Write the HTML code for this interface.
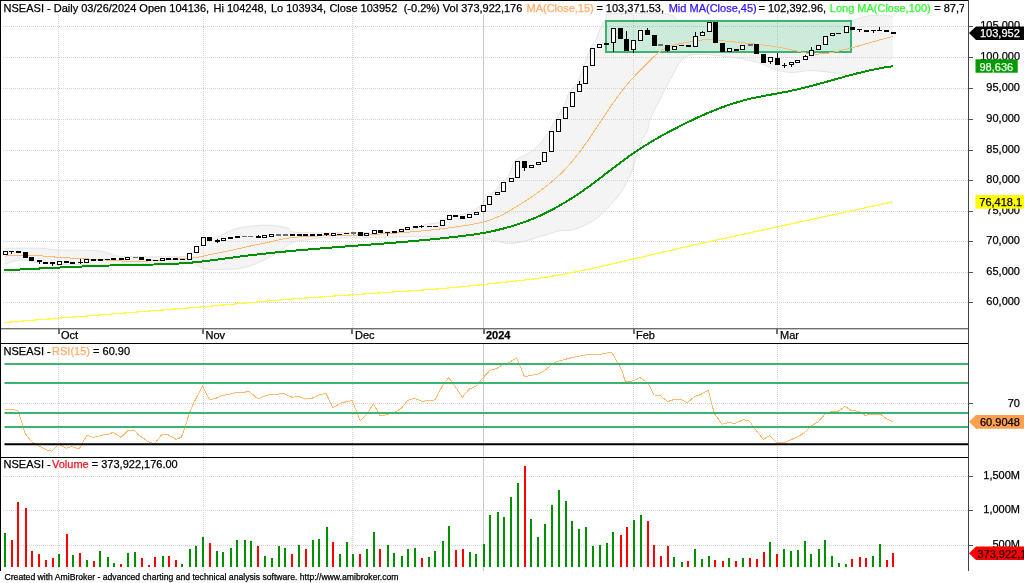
<!DOCTYPE html><html><head><meta charset="utf-8"><title>NSEASI chart</title>
<style>html,body{margin:0;padding:0;background:#fff;}body{width:1024px;height:583px;overflow:hidden;}svg{display:block;} text,tspan{font-family:'Liberation Sans', Arial, sans-serif;font-size:11px;stroke-width:0.25px;}</style></head><body>
<svg width="1024" height="583" viewBox="0 0 1024 583">
<rect x="0" y="0" width="1024" height="583" fill="#fff"/>
<defs><clipPath id="cp"><rect x="1" y="1" width="967" height="327"/></clipPath><clipPath id="ct"><rect x="0" y="0" width="964" height="20"/></clipPath></defs>
<path d="M4.50,248.30 C10.75,248.30 33.42,248.03 42.00,248.30 C50.58,248.57 46.83,249.50 56.00,249.90 C65.17,250.30 88.00,250.07 97.00,250.70 C106.00,251.33 105.50,252.73 110.00,253.70 C114.50,254.67 111.50,256.03 124.00,256.50 C136.50,256.97 174.00,256.92 185.00,256.50 C196.00,256.08 187.50,255.75 190.00,254.00 C192.50,252.25 197.00,248.33 200.00,246.00 C203.00,243.67 205.45,241.37 208.00,240.00 C210.55,238.63 210.65,239.67 215.30,237.80 C219.95,235.93 228.58,230.87 235.90,228.80 C243.22,226.73 252.78,225.93 259.20,225.40 C265.62,224.87 269.67,225.18 274.40,225.60 C279.13,226.02 283.45,226.73 287.60,227.90 C291.75,229.07 285.57,231.87 299.30,232.60 C313.03,233.33 351.55,232.73 370.00,232.30 C388.45,231.87 401.00,231.23 410.00,230.00 C419.00,228.77 419.23,226.15 424.00,224.90 C428.77,223.65 434.53,223.72 438.60,222.50 C442.67,221.28 444.83,218.85 448.40,217.60 C451.97,216.35 457.07,215.68 460.00,215.00 C462.93,214.32 463.67,214.33 466.00,213.50 C468.33,212.67 471.50,211.42 474.00,210.00 C476.50,208.58 478.83,207.17 481.00,205.00 C483.17,202.83 484.67,199.33 487.00,197.00 C489.33,194.67 492.67,193.33 495.00,191.00 C497.33,188.67 498.83,185.25 501.00,183.00 C503.17,180.75 505.67,181.17 508.00,177.50 C510.33,173.83 512.43,164.58 515.00,161.00 C517.57,157.42 519.77,158.32 523.40,156.00 C527.03,153.68 532.52,151.18 536.80,147.10 C541.08,143.02 545.93,136.15 549.10,131.50 C552.27,126.85 553.38,123.28 555.80,119.20 C558.22,115.12 561.37,111.45 563.60,107.00 C565.83,102.55 566.97,96.42 569.20,92.50 C571.43,88.58 574.58,87.78 577.00,83.50 C579.42,79.22 581.47,72.57 583.70,66.80 C585.93,61.03 588.37,53.37 590.40,48.90 C592.43,44.43 594.30,43.32 595.90,40.00 C597.50,36.68 598.32,32.67 600.00,29.00 C601.68,25.33 604.00,20.50 606.00,18.00 C608.00,15.50 601.83,14.67 612.00,14.00 C622.17,13.33 655.83,12.43 667.00,14.00 C678.17,15.57 675.17,21.07 679.00,23.40 C682.83,25.73 674.83,27.57 690.00,28.00 C705.17,28.43 750.67,24.73 770.00,26.00 C789.33,27.27 798.40,33.23 806.00,35.60 C813.60,37.97 809.93,41.75 815.60,40.20 C821.27,38.65 833.98,29.48 840.00,26.30 C846.02,23.12 847.18,22.82 851.70,21.10 C856.22,19.38 861.67,17.00 867.10,16.00 C872.53,15.00 880.00,14.95 884.30,15.10 C888.60,15.25 891.47,16.60 892.90,16.90 L892.90,57.10 C890.60,58.68 883.40,64.30 879.10,66.60 C874.80,68.90 871.95,69.48 867.10,70.90 C862.25,72.32 855.70,74.82 850.00,75.10 C844.30,75.38 839.47,73.37 832.90,72.60 C826.33,71.83 817.52,70.52 810.60,70.50 C803.68,70.48 797.45,72.73 791.40,72.50 C785.35,72.27 780.02,70.80 774.30,69.10 C768.58,67.40 764.25,64.30 757.10,62.30 C749.95,60.30 739.97,58.38 731.40,57.10 C722.83,55.82 712.83,54.88 705.70,54.60 C698.57,54.32 692.88,54.12 688.60,55.40 C684.32,56.68 682.10,60.02 680.00,62.30 C677.90,64.58 678.38,64.82 676.00,69.10 C673.62,73.38 669.98,79.70 665.70,88.00 C661.42,96.30 653.30,111.90 650.30,118.90 C647.30,125.90 649.27,126.15 647.70,130.00 C646.13,133.85 642.90,137.15 640.90,142.00 C638.90,146.85 637.42,153.67 635.70,159.10 C633.98,164.53 633.17,168.88 630.60,174.60 C628.03,180.32 624.30,187.68 620.30,193.40 C616.30,199.12 611.17,204.32 606.60,208.90 C602.03,213.48 598.62,217.38 592.90,220.90 C587.18,224.42 577.78,228.38 572.30,230.00 C566.82,231.62 564.90,229.65 560.00,230.60 C555.10,231.55 550.90,233.57 542.90,235.70 C534.90,237.83 521.98,242.93 512.00,243.40 C502.02,243.87 493.60,239.38 483.00,238.50 C472.40,237.62 455.80,238.33 448.40,238.10 C441.00,237.87 445.12,237.35 438.60,237.10 C432.08,236.85 423.73,236.47 409.30,236.60 C394.87,236.73 366.88,237.67 352.00,237.90 C337.12,238.13 327.80,237.62 320.00,238.00 C312.20,238.38 309.63,239.53 305.20,240.20 C300.77,240.87 297.63,240.23 293.40,242.00 C289.17,243.77 284.35,247.97 279.80,250.80 C275.25,253.63 271.82,256.25 266.10,259.00 C260.38,261.75 252.37,265.58 245.50,267.30 C238.63,269.02 231.77,269.07 224.90,269.30 C218.03,269.53 209.78,269.83 204.30,268.70 C198.82,267.57 195.22,263.62 192.00,262.50 C188.78,261.38 190.33,261.92 185.00,262.00 C179.67,262.08 169.17,262.67 160.00,263.00 C150.83,263.33 140.00,263.67 130.00,264.00 C120.00,264.33 108.33,264.92 100.00,265.00 C91.67,265.08 88.33,264.67 80.00,264.50 C71.67,264.33 57.50,264.42 50.00,264.00 C42.50,263.58 39.67,262.67 35.00,262.00 C30.33,261.33 24.90,260.25 22.00,260.00 C19.10,259.75 19.60,260.10 17.60,260.50 C15.60,260.90 12.18,261.75 10.00,262.40 C7.82,263.05 5.42,264.07 4.50,264.40 Z" fill="#f4f4f4" stroke="none"/>
<path d="M4.50,248.30 C10.75,248.30 33.42,248.03 42.00,248.30 C50.58,248.57 46.83,249.50 56.00,249.90 C65.17,250.30 88.00,250.07 97.00,250.70 C106.00,251.33 105.50,252.73 110.00,253.70 C114.50,254.67 111.50,256.03 124.00,256.50 C136.50,256.97 174.00,256.92 185.00,256.50 C196.00,256.08 187.50,255.75 190.00,254.00 C192.50,252.25 197.00,248.33 200.00,246.00 C203.00,243.67 205.45,241.37 208.00,240.00 C210.55,238.63 210.65,239.67 215.30,237.80 C219.95,235.93 228.58,230.87 235.90,228.80 C243.22,226.73 252.78,225.93 259.20,225.40 C265.62,224.87 269.67,225.18 274.40,225.60 C279.13,226.02 283.45,226.73 287.60,227.90 C291.75,229.07 285.57,231.87 299.30,232.60 C313.03,233.33 351.55,232.73 370.00,232.30 C388.45,231.87 401.00,231.23 410.00,230.00 C419.00,228.77 419.23,226.15 424.00,224.90 C428.77,223.65 434.53,223.72 438.60,222.50 C442.67,221.28 444.83,218.85 448.40,217.60 C451.97,216.35 457.07,215.68 460.00,215.00 C462.93,214.32 463.67,214.33 466.00,213.50 C468.33,212.67 471.50,211.42 474.00,210.00 C476.50,208.58 478.83,207.17 481.00,205.00 C483.17,202.83 484.67,199.33 487.00,197.00 C489.33,194.67 492.67,193.33 495.00,191.00 C497.33,188.67 498.83,185.25 501.00,183.00 C503.17,180.75 505.67,181.17 508.00,177.50 C510.33,173.83 512.43,164.58 515.00,161.00 C517.57,157.42 519.77,158.32 523.40,156.00 C527.03,153.68 532.52,151.18 536.80,147.10 C541.08,143.02 545.93,136.15 549.10,131.50 C552.27,126.85 553.38,123.28 555.80,119.20 C558.22,115.12 561.37,111.45 563.60,107.00 C565.83,102.55 566.97,96.42 569.20,92.50 C571.43,88.58 574.58,87.78 577.00,83.50 C579.42,79.22 581.47,72.57 583.70,66.80 C585.93,61.03 588.37,53.37 590.40,48.90 C592.43,44.43 594.30,43.32 595.90,40.00 C597.50,36.68 598.32,32.67 600.00,29.00 C601.68,25.33 604.00,20.50 606.00,18.00 C608.00,15.50 601.83,14.67 612.00,14.00 C622.17,13.33 655.83,12.43 667.00,14.00 C678.17,15.57 675.17,21.07 679.00,23.40 C682.83,25.73 674.83,27.57 690.00,28.00 C705.17,28.43 750.67,24.73 770.00,26.00 C789.33,27.27 798.40,33.23 806.00,35.60 C813.60,37.97 809.93,41.75 815.60,40.20 C821.27,38.65 833.98,29.48 840.00,26.30 C846.02,23.12 847.18,22.82 851.70,21.10 C856.22,19.38 861.67,17.00 867.10,16.00 C872.53,15.00 880.00,14.95 884.30,15.10 C888.60,15.25 891.47,16.60 892.90,16.90" fill="none" stroke="#e4e4e4" stroke-width="1"/>
<path d="M892.90,57.10 C890.60,58.68 883.40,64.30 879.10,66.60 C874.80,68.90 871.95,69.48 867.10,70.90 C862.25,72.32 855.70,74.82 850.00,75.10 C844.30,75.38 839.47,73.37 832.90,72.60 C826.33,71.83 817.52,70.52 810.60,70.50 C803.68,70.48 797.45,72.73 791.40,72.50 C785.35,72.27 780.02,70.80 774.30,69.10 C768.58,67.40 764.25,64.30 757.10,62.30 C749.95,60.30 739.97,58.38 731.40,57.10 C722.83,55.82 712.83,54.88 705.70,54.60 C698.57,54.32 692.88,54.12 688.60,55.40 C684.32,56.68 682.10,60.02 680.00,62.30 C677.90,64.58 678.38,64.82 676.00,69.10 C673.62,73.38 669.98,79.70 665.70,88.00 C661.42,96.30 653.30,111.90 650.30,118.90 C647.30,125.90 649.27,126.15 647.70,130.00 C646.13,133.85 642.90,137.15 640.90,142.00 C638.90,146.85 637.42,153.67 635.70,159.10 C633.98,164.53 633.17,168.88 630.60,174.60 C628.03,180.32 624.30,187.68 620.30,193.40 C616.30,199.12 611.17,204.32 606.60,208.90 C602.03,213.48 598.62,217.38 592.90,220.90 C587.18,224.42 577.78,228.38 572.30,230.00 C566.82,231.62 564.90,229.65 560.00,230.60 C555.10,231.55 550.90,233.57 542.90,235.70 C534.90,237.83 521.98,242.93 512.00,243.40 C502.02,243.87 493.60,239.38 483.00,238.50 C472.40,237.62 455.80,238.33 448.40,238.10 C441.00,237.87 445.12,237.35 438.60,237.10 C432.08,236.85 423.73,236.47 409.30,236.60 C394.87,236.73 366.88,237.67 352.00,237.90 C337.12,238.13 327.80,237.62 320.00,238.00 C312.20,238.38 309.63,239.53 305.20,240.20 C300.77,240.87 297.63,240.23 293.40,242.00 C289.17,243.77 284.35,247.97 279.80,250.80 C275.25,253.63 271.82,256.25 266.10,259.00 C260.38,261.75 252.37,265.58 245.50,267.30 C238.63,269.02 231.77,269.07 224.90,269.30 C218.03,269.53 209.78,269.83 204.30,268.70 C198.82,267.57 195.22,263.62 192.00,262.50 C188.78,261.38 190.33,261.92 185.00,262.00 C179.67,262.08 169.17,262.67 160.00,263.00 C150.83,263.33 140.00,263.67 130.00,264.00 C120.00,264.33 108.33,264.92 100.00,265.00 C91.67,265.08 88.33,264.67 80.00,264.50 C71.67,264.33 57.50,264.42 50.00,264.00 C42.50,263.58 39.67,262.67 35.00,262.00 C30.33,261.33 24.90,260.25 22.00,260.00 C19.10,259.75 19.60,260.10 17.60,260.50 C15.60,260.90 12.18,261.75 10.00,262.40 C7.82,263.05 5.42,264.07 4.50,264.40" fill="none" stroke="#e4e4e4" stroke-width="1"/>
<rect x="606" y="21" width="245" height="31" fill="#fff"/>
<line x1="3" y1="26.5" x2="968" y2="26.5" stroke="#d4d4d4" stroke-width="1" stroke-dasharray="1,1"/>
<line x1="3" y1="57.5" x2="968" y2="57.5" stroke="#d4d4d4" stroke-width="1" stroke-dasharray="1,1"/>
<line x1="3" y1="88.5" x2="968" y2="88.5" stroke="#d4d4d4" stroke-width="1" stroke-dasharray="1,1"/>
<line x1="3" y1="119.5" x2="968" y2="119.5" stroke="#d4d4d4" stroke-width="1" stroke-dasharray="1,1"/>
<line x1="3" y1="150.5" x2="968" y2="150.5" stroke="#d4d4d4" stroke-width="1" stroke-dasharray="1,1"/>
<line x1="3" y1="180.5" x2="968" y2="180.5" stroke="#d4d4d4" stroke-width="1" stroke-dasharray="1,1"/>
<line x1="3" y1="211.5" x2="968" y2="211.5" stroke="#d4d4d4" stroke-width="1" stroke-dasharray="1,1"/>
<line x1="3" y1="241.5" x2="968" y2="241.5" stroke="#d4d4d4" stroke-width="1" stroke-dasharray="1,1"/>
<line x1="3" y1="272.5" x2="968" y2="272.5" stroke="#d4d4d4" stroke-width="1" stroke-dasharray="1,1"/>
<line x1="3" y1="302.5" x2="968" y2="302.5" stroke="#d4d4d4" stroke-width="1" stroke-dasharray="1,1"/>
<line x1="58.5" y1="15" x2="58.5" y2="328" stroke="#d4d4d4" stroke-dasharray="1,1"/>
<line x1="58.5" y1="357" x2="58.5" y2="457" stroke="#d4d4d4" stroke-dasharray="1,1"/>
<line x1="58.5" y1="471" x2="58.5" y2="571" stroke="#d4d4d4" stroke-dasharray="1,1"/>
<line x1="203.5" y1="15" x2="203.5" y2="328" stroke="#d4d4d4" stroke-dasharray="1,1"/>
<line x1="203.5" y1="344" x2="203.5" y2="457" stroke="#d4d4d4" stroke-dasharray="1,1"/>
<line x1="203.5" y1="458" x2="203.5" y2="571" stroke="#d4d4d4" stroke-dasharray="1,1"/>
<line x1="352.5" y1="15" x2="352.5" y2="328" stroke="#d4d4d4" stroke-dasharray="1,1"/>
<line x1="352.5" y1="344" x2="352.5" y2="457" stroke="#d4d4d4" stroke-dasharray="1,1"/>
<line x1="352.5" y1="458" x2="352.5" y2="571" stroke="#d4d4d4" stroke-dasharray="1,1"/>
<line x1="633.5" y1="15" x2="633.5" y2="328" stroke="#d4d4d4" stroke-dasharray="1,1"/>
<line x1="633.5" y1="344" x2="633.5" y2="457" stroke="#d4d4d4" stroke-dasharray="1,1"/>
<line x1="633.5" y1="458" x2="633.5" y2="571" stroke="#d4d4d4" stroke-dasharray="1,1"/>
<line x1="777.5" y1="15" x2="777.5" y2="328" stroke="#d4d4d4" stroke-dasharray="1,1"/>
<line x1="777.5" y1="344" x2="777.5" y2="457" stroke="#d4d4d4" stroke-dasharray="1,1"/>
<line x1="777.5" y1="458" x2="777.5" y2="571" stroke="#d4d4d4" stroke-dasharray="1,1"/>
<line x1="483.5" y1="15" x2="483.5" y2="328" stroke="#c8c8c8"/>
<line x1="483.5" y1="344" x2="483.5" y2="457" stroke="#c8c8c8"/>
<line x1="483.5" y1="458" x2="483.5" y2="571" stroke="#c8c8c8"/>
<rect x="606" y="21" width="245" height="31" fill="rgba(60,179,113,0.26)" stroke="#3cb371" stroke-width="2"/>
<path d="M4.00,322.50 C36.67,319.92 150.67,311.02 200.00,307.00 C249.33,302.98 261.85,301.30 300.00,298.40 C338.15,295.50 398.32,291.92 428.90,289.60 C459.48,287.28 464.88,286.43 483.50,284.50 C502.12,282.57 523.92,280.38 540.60,278.00 C557.28,275.62 567.83,273.43 583.60,270.20 C599.37,266.97 618.00,262.53 635.20,258.60 C652.40,254.67 669.33,250.53 686.80,246.60 C704.27,242.67 705.80,242.43 740.00,235.00 C774.20,227.57 866.67,207.50 892.00,202.00" fill="none" stroke="#ffff33" stroke-width="1.2" shape-rendering="crispEdges"/>
<path d="M4.50,270.31 C4.83,270.29 5.83,270.24 6.50,270.21 C7.17,270.18 7.84,270.14 8.51,270.11 C9.17,270.07 9.84,270.04 10.51,270.00 C11.18,269.97 11.85,269.94 12.51,269.90 C13.18,269.87 13.85,269.83 14.52,269.80 C15.19,269.76 15.85,269.73 16.52,269.69 C17.19,269.66 17.86,269.63 18.52,269.59 C19.19,269.56 19.86,269.52 20.53,269.49 C21.20,269.45 21.86,269.42 22.53,269.38 C23.20,269.35 23.87,269.32 24.53,269.28 C25.20,269.25 25.87,269.21 26.54,269.18 C27.21,269.14 27.87,269.11 28.54,269.07 C29.21,269.04 29.88,269.01 30.54,268.97 C31.21,268.94 31.88,268.90 32.55,268.87 C33.21,268.84 33.88,268.80 34.55,268.77 C35.22,268.73 35.88,268.70 36.55,268.66 C37.22,268.63 37.89,268.60 38.56,268.56 C39.22,268.53 39.89,268.50 40.56,268.46 C41.23,268.43 41.89,268.39 42.56,268.36 C43.23,268.33 43.90,268.29 44.56,268.26 C45.23,268.23 45.90,268.19 46.57,268.16 C47.23,268.13 47.90,268.09 48.57,268.06 C49.24,268.03 49.90,267.99 50.57,267.96 C51.24,267.93 51.91,267.90 52.57,267.86 C53.24,267.83 53.91,267.80 54.58,267.77 C55.24,267.73 55.91,267.70 56.58,267.67 C57.25,267.64 57.91,267.61 58.58,267.57 C59.25,267.54 59.92,267.51 60.58,267.48 C61.25,267.45 61.92,267.42 62.59,267.38 C63.25,267.35 63.92,267.32 64.59,267.29 C65.26,267.26 65.93,267.23 66.59,267.20 C67.26,267.17 67.93,267.14 68.60,267.11 C69.26,267.08 69.93,267.05 70.60,267.01 C71.27,266.98 71.93,266.95 72.60,266.93 C73.27,266.90 73.94,266.87 74.60,266.84 C75.27,266.81 75.94,266.78 76.61,266.75 C77.28,266.72 77.94,266.69 78.61,266.66 C79.28,266.63 79.95,266.61 80.61,266.58 C81.28,266.55 81.95,266.52 82.62,266.49 C83.29,266.47 83.95,266.44 84.62,266.41 C85.29,266.38 85.96,266.36 86.62,266.33 C87.29,266.30 87.96,266.28 88.63,266.25 C89.30,266.22 89.96,266.20 90.63,266.17 C91.30,266.14 91.97,266.12 92.64,266.09 C93.30,266.07 93.97,266.04 94.64,266.02 C95.31,265.99 95.98,265.97 96.64,265.94 C97.31,265.92 97.98,265.89 98.65,265.87 C99.32,265.85 99.98,265.82 100.65,265.80 C101.32,265.78 101.99,265.75 102.66,265.73 C103.33,265.71 103.99,265.68 104.66,265.66 C105.33,265.64 106.00,265.62 106.67,265.60 C107.34,265.57 108.00,265.55 108.67,265.53 C109.34,265.51 110.01,265.49 110.68,265.47 C111.35,265.45 112.01,265.43 112.68,265.41 C113.35,265.39 114.02,265.37 114.69,265.35 C115.36,265.33 116.03,265.31 116.69,265.29 C117.36,265.27 118.03,265.26 118.70,265.24 C119.37,265.22 120.04,265.20 120.71,265.18 C121.38,265.17 122.04,265.15 122.71,265.13 C123.38,265.12 124.05,265.10 124.72,265.08 C125.39,265.07 126.06,265.05 126.73,265.04 C127.40,265.02 128.07,265.01 128.73,264.99 C129.40,264.98 130.07,264.96 130.74,264.95 C131.41,264.94 132.08,264.92 132.75,264.91 C133.42,264.90 134.09,264.88 134.76,264.87 C135.43,264.86 136.10,264.85 136.76,264.83 C137.43,264.82 138.10,264.81 138.77,264.80 C139.44,264.79 140.11,264.77 140.78,264.76 C141.45,264.75 142.12,264.74 142.79,264.72 C143.46,264.71 144.13,264.70 144.80,264.69 C145.47,264.67 146.14,264.66 146.80,264.65 C147.47,264.64 148.14,264.62 148.81,264.61 C149.48,264.60 150.15,264.58 150.82,264.57 C151.49,264.55 152.16,264.54 152.83,264.52 C153.50,264.51 154.17,264.49 154.84,264.48 C155.50,264.46 156.17,264.44 156.84,264.43 C157.51,264.41 158.18,264.39 158.85,264.37 C159.52,264.35 160.19,264.34 160.86,264.32 C161.52,264.30 162.19,264.28 162.86,264.25 C163.53,264.23 164.20,264.21 164.87,264.19 C165.54,264.16 166.20,264.14 166.87,264.11 C167.54,264.09 168.21,264.06 168.88,264.04 C169.55,264.01 170.21,263.98 170.88,263.95 C171.55,263.92 172.22,263.89 172.89,263.86 C173.55,263.83 174.22,263.80 174.89,263.76 C175.56,263.73 176.22,263.69 176.89,263.66 C177.56,263.62 178.23,263.58 178.89,263.54 C179.56,263.50 180.23,263.46 180.89,263.42 C181.56,263.38 182.23,263.33 182.89,263.29 C183.56,263.24 184.23,263.19 184.89,263.15 C185.56,263.10 186.22,263.05 186.89,263.00 C187.56,262.94 188.22,262.89 188.89,262.83 C189.55,262.78 190.22,262.72 190.88,262.66 C191.55,262.60 192.22,262.54 192.88,262.48 C193.55,262.42 194.21,262.35 194.88,262.29 C195.54,262.22 196.20,262.15 196.87,262.09 C197.53,262.02 198.20,261.95 198.86,261.87 C199.53,261.80 200.19,261.73 200.85,261.65 C201.52,261.58 202.18,261.50 202.85,261.43 C203.51,261.35 204.17,261.27 204.84,261.19 C205.50,261.11 206.16,261.03 206.83,260.95 C207.49,260.87 208.15,260.79 208.82,260.70 C209.48,260.62 210.14,260.54 210.81,260.45 C211.47,260.37 212.13,260.28 212.80,260.19 C213.46,260.11 214.12,260.02 214.78,259.93 C215.45,259.85 216.11,259.76 216.77,259.67 C217.44,259.58 218.10,259.49 218.76,259.40 C219.42,259.31 220.09,259.22 220.75,259.13 C221.41,259.04 222.08,258.95 222.74,258.86 C223.40,258.77 224.06,258.68 224.73,258.59 C225.39,258.50 226.05,258.41 226.71,258.32 C227.38,258.23 228.04,258.14 228.70,258.05 C229.37,257.96 230.03,257.86 230.69,257.77 C231.35,257.68 232.02,257.60 232.68,257.51 C233.34,257.42 234.01,257.33 234.67,257.24 C235.33,257.15 235.99,257.06 236.66,256.98 C237.32,256.89 237.98,256.80 238.65,256.72 C239.31,256.63 239.97,256.54 240.64,256.46 C241.30,256.37 241.96,256.29 242.63,256.21 C243.29,256.12 243.95,256.04 244.62,255.96 C245.28,255.87 245.95,255.79 246.61,255.71 C247.27,255.63 247.94,255.55 248.60,255.47 C249.26,255.39 249.93,255.31 250.59,255.23 C251.26,255.15 251.92,255.07 252.58,254.99 C253.25,254.91 253.91,254.84 254.58,254.76 C255.24,254.68 255.91,254.60 256.57,254.53 C257.23,254.45 257.90,254.38 258.56,254.30 C259.23,254.23 259.89,254.15 260.56,254.08 C261.22,254.00 261.89,253.93 262.55,253.86 C263.22,253.78 263.88,253.71 264.54,253.64 C265.21,253.57 265.87,253.49 266.54,253.42 C267.20,253.35 267.87,253.28 268.53,253.21 C269.20,253.14 269.86,253.07 270.53,253.00 C271.19,252.93 271.86,252.86 272.52,252.79 C273.19,252.72 273.85,252.66 274.52,252.59 C275.18,252.52 275.85,252.45 276.52,252.39 C277.18,252.32 277.85,252.25 278.51,252.19 C279.18,252.12 279.84,252.05 280.51,251.99 C281.17,251.92 281.84,251.86 282.50,251.79 C283.17,251.73 283.84,251.66 284.50,251.60 C285.17,251.54 285.83,251.47 286.50,251.41 C287.16,251.35 287.83,251.28 288.50,251.22 C289.16,251.16 289.83,251.10 290.49,251.04 C291.16,250.97 291.82,250.91 292.49,250.85 C293.16,250.79 293.82,250.73 294.49,250.67 C295.15,250.61 295.82,250.55 296.49,250.49 C297.15,250.43 297.82,250.37 298.48,250.31 C299.15,250.25 299.82,250.19 300.48,250.13 C301.15,250.07 301.82,250.01 302.48,249.96 C303.15,249.90 303.81,249.84 304.48,249.78 C305.15,249.73 305.81,249.67 306.48,249.61 C307.15,249.55 307.81,249.50 308.48,249.44 C309.14,249.38 309.81,249.33 310.48,249.27 C311.14,249.21 311.81,249.16 312.48,249.10 C313.14,249.05 313.81,248.99 314.48,248.94 C315.14,248.88 315.81,248.83 316.48,248.77 C317.14,248.72 317.81,248.66 318.48,248.61 C319.14,248.55 319.81,248.50 320.48,248.44 C321.14,248.39 321.81,248.34 322.48,248.28 C323.14,248.23 323.81,248.18 324.48,248.12 C325.14,248.07 325.81,248.02 326.48,247.96 C327.14,247.91 327.81,247.86 328.48,247.80 C329.14,247.75 329.81,247.70 330.48,247.65 C331.14,247.59 331.81,247.54 332.48,247.49 C333.14,247.44 333.81,247.38 334.48,247.33 C335.14,247.28 335.81,247.23 336.48,247.18 C337.14,247.12 337.81,247.07 338.48,247.02 C339.14,246.97 339.81,246.92 340.48,246.87 C341.14,246.81 341.81,246.76 342.48,246.71 C343.15,246.66 343.81,246.61 344.48,246.56 C345.15,246.51 345.81,246.46 346.48,246.40 C347.15,246.35 347.81,246.30 348.48,246.25 C349.15,246.20 349.81,246.15 350.48,246.10 C351.15,246.05 351.81,246.00 352.48,245.95 C353.15,245.89 353.82,245.84 354.48,245.79 C355.15,245.74 355.82,245.69 356.48,245.64 C357.15,245.59 357.82,245.54 358.48,245.49 C359.15,245.44 359.82,245.39 360.48,245.33 C361.15,245.28 361.82,245.23 362.48,245.18 C363.15,245.13 363.82,245.08 364.48,245.03 C365.15,244.98 365.82,244.93 366.48,244.88 C367.15,244.82 367.82,244.77 368.48,244.72 C369.15,244.67 369.82,244.62 370.48,244.57 C371.15,244.52 371.82,244.46 372.48,244.41 C373.15,244.36 373.82,244.31 374.48,244.26 C375.15,244.21 375.82,244.15 376.48,244.10 C377.15,244.05 377.82,244.00 378.48,243.95 C379.15,243.89 379.82,243.84 380.48,243.79 C381.15,243.74 381.82,243.68 382.48,243.63 C383.15,243.58 383.82,243.53 384.48,243.47 C385.15,243.42 385.82,243.37 386.48,243.31 C387.15,243.26 387.82,243.21 388.48,243.15 C389.15,243.10 389.81,243.05 390.48,242.99 C391.15,242.94 391.81,242.88 392.48,242.83 C393.15,242.78 393.81,242.72 394.48,242.67 C395.14,242.61 395.81,242.56 396.48,242.50 C397.14,242.45 397.81,242.39 398.48,242.34 C399.14,242.28 399.81,242.22 400.47,242.17 C401.14,242.11 401.81,242.06 402.47,242.00 C403.14,241.94 403.80,241.89 404.47,241.83 C405.14,241.77 405.80,241.72 406.47,241.66 C407.13,241.60 407.80,241.54 408.46,241.49 C409.13,241.43 409.80,241.37 410.46,241.31 C411.13,241.25 411.79,241.19 412.46,241.13 C413.12,241.07 413.79,241.02 414.46,240.96 C415.12,240.90 415.79,240.84 416.45,240.78 C417.12,240.72 417.78,240.65 418.45,240.59 C419.11,240.53 419.78,240.47 420.44,240.41 C421.11,240.35 421.77,240.29 422.44,240.22 C423.10,240.16 423.77,240.10 424.44,240.04 C425.10,239.97 425.77,239.91 426.43,239.85 C427.10,239.78 427.76,239.72 428.43,239.66 C429.09,239.59 429.76,239.53 430.42,239.46 C431.08,239.40 431.75,239.33 432.41,239.26 C433.08,239.20 433.74,239.13 434.41,239.07 C435.07,239.00 435.74,238.93 436.40,238.86 C437.07,238.80 437.73,238.73 438.40,238.66 C439.06,238.59 439.72,238.52 440.39,238.45 C441.05,238.38 441.72,238.32 442.38,238.25 C443.05,238.17 443.71,238.10 444.37,238.03 C445.04,237.96 445.70,237.89 446.37,237.82 C447.03,237.75 447.69,237.67 448.36,237.60 C449.02,237.53 449.69,237.46 450.35,237.38 C451.01,237.31 451.68,237.23 452.34,237.16 C453.00,237.08 453.67,237.01 454.33,236.93 C454.99,236.86 455.66,236.78 456.32,236.70 C456.98,236.63 457.65,236.55 458.31,236.47 C458.97,236.39 459.64,236.32 460.30,236.24 C460.96,236.16 461.63,236.08 462.29,236.00 C462.95,235.92 463.61,235.84 464.28,235.75 C464.94,235.67 465.60,235.59 466.27,235.50 C466.93,235.42 467.59,235.33 468.25,235.24 C468.91,235.16 469.58,235.07 470.24,234.98 C470.90,234.89 471.56,234.80 472.22,234.70 C472.88,234.61 473.55,234.51 474.21,234.42 C474.87,234.32 475.53,234.22 476.19,234.12 C476.85,234.02 477.51,233.92 478.17,233.81 C478.83,233.71 479.49,233.60 480.15,233.49 C480.81,233.38 481.47,233.27 482.13,233.16 C482.79,233.04 483.45,232.93 484.11,232.81 C484.77,232.69 485.43,232.57 486.09,232.44 C486.74,232.32 487.40,232.19 488.06,232.06 C488.72,231.93 489.38,231.80 490.03,231.67 C490.69,231.53 491.35,231.39 492.00,231.25 C492.66,231.11 493.31,230.97 493.97,230.83 C494.62,230.68 495.28,230.54 495.93,230.39 C496.59,230.23 497.24,230.08 497.89,229.93 C498.55,229.77 499.20,229.61 499.85,229.45 C500.50,229.29 501.15,229.13 501.80,228.96 C502.46,228.80 503.10,228.63 503.75,228.46 C504.40,228.29 505.05,228.11 505.70,227.94 C506.35,227.76 506.99,227.58 507.64,227.40 C508.29,227.22 508.93,227.04 509.58,226.85 C510.22,226.66 510.86,226.47 511.51,226.28 C512.15,226.09 512.79,225.89 513.43,225.69 C514.07,225.50 514.71,225.30 515.35,225.09 C515.99,224.89 516.63,224.68 517.27,224.48 C517.91,224.27 518.54,224.06 519.18,223.84 C519.81,223.63 520.45,223.41 521.08,223.19 C521.71,222.97 522.34,222.75 522.98,222.53 C523.61,222.30 524.24,222.07 524.86,221.84 C525.49,221.61 526.12,221.38 526.75,221.14 C527.37,220.91 528.00,220.67 528.62,220.43 C529.24,220.19 529.87,219.94 530.49,219.70 C531.11,219.45 531.73,219.20 532.35,218.95 C532.96,218.69 533.58,218.44 534.20,218.18 C534.81,217.92 535.43,217.66 536.04,217.40 C536.65,217.13 537.26,216.87 537.87,216.60 C538.48,216.33 539.09,216.06 539.70,215.78 C540.31,215.51 540.91,215.23 541.52,214.95 C542.12,214.67 542.73,214.39 543.33,214.10 C543.93,213.82 544.53,213.53 545.13,213.24 C545.73,212.95 546.33,212.65 546.92,212.36 C547.52,212.06 548.11,211.76 548.71,211.46 C549.30,211.16 549.90,210.86 550.49,210.55 C551.08,210.25 551.67,209.94 552.26,209.63 C552.85,209.32 553.43,209.01 554.02,208.69 C554.61,208.38 555.19,208.06 555.77,207.74 C556.36,207.42 556.94,207.10 557.52,206.77 C558.10,206.45 558.68,206.12 559.26,205.80 C559.84,205.47 560.42,205.14 560.99,204.80 C561.57,204.47 562.14,204.13 562.72,203.80 C563.29,203.46 563.86,203.12 564.44,202.78 C565.01,202.44 565.58,202.09 566.15,201.75 C566.72,201.40 567.28,201.05 567.85,200.70 C568.42,200.35 568.98,200.00 569.55,199.65 C570.11,199.29 570.67,198.94 571.24,198.58 C571.80,198.22 572.36,197.86 572.92,197.50 C573.48,197.14 574.04,196.78 574.60,196.41 C575.15,196.05 575.71,195.68 576.26,195.31 C576.82,194.94 577.37,194.57 577.93,194.20 C578.48,193.83 579.03,193.45 579.58,193.08 C580.13,192.70 580.68,192.32 581.23,191.94 C581.78,191.56 582.33,191.18 582.88,190.80 C583.42,190.42 583.97,190.03 584.51,189.65 C585.06,189.26 585.60,188.88 586.14,188.49 C586.69,188.10 587.23,187.71 587.77,187.32 C588.31,186.93 588.85,186.53 589.39,186.14 C589.93,185.75 590.47,185.35 591.00,184.95 C591.54,184.56 592.08,184.16 592.61,183.76 C593.15,183.36 593.69,182.96 594.22,182.56 C594.75,182.16 595.29,181.76 595.82,181.36 C596.36,180.96 596.89,180.56 597.42,180.15 C597.96,179.75 598.49,179.34 599.02,178.94 C599.55,178.53 600.08,178.13 600.62,177.72 C601.15,177.32 601.68,176.91 602.21,176.50 C602.74,176.10 603.27,175.69 603.80,175.28 C604.33,174.88 604.86,174.47 605.39,174.06 C605.92,173.65 606.45,173.25 606.98,172.84 C607.51,172.43 608.04,172.02 608.57,171.61 C609.10,171.21 609.64,170.80 610.17,170.39 C610.70,169.98 611.23,169.58 611.76,169.17 C612.29,168.76 612.82,168.36 613.35,167.95 C613.88,167.54 614.42,167.14 614.95,166.73 C615.48,166.33 616.01,165.92 616.55,165.52 C617.08,165.11 617.61,164.71 618.15,164.31 C618.68,163.90 619.22,163.50 619.75,163.10 C620.29,162.70 620.82,162.30 621.36,161.90 C621.89,161.50 622.43,161.10 622.97,160.70 C623.51,160.31 624.05,159.91 624.59,159.51 C625.13,159.12 625.67,158.72 626.21,158.33 C626.75,157.94 627.29,157.55 627.83,157.16 C628.38,156.77 628.92,156.38 629.47,155.99 C630.01,155.60 630.56,155.22 631.10,154.83 C631.65,154.45 632.20,154.07 632.75,153.69 C633.30,153.30 633.85,152.93 634.40,152.55 C634.95,152.17 635.51,151.80 636.06,151.42 C636.62,151.05 637.17,150.68 637.73,150.31 C638.29,149.94 638.85,149.57 639.41,149.20 C639.97,148.84 640.53,148.47 641.09,148.11 C641.65,147.75 642.22,147.39 642.78,147.03 C643.34,146.67 643.91,146.31 644.48,145.96 C645.04,145.60 645.61,145.25 646.18,144.89 C646.75,144.54 647.32,144.19 647.89,143.84 C648.46,143.49 649.04,143.15 649.61,142.80 C650.18,142.45 650.76,142.11 651.33,141.77 C651.91,141.43 652.49,141.08 653.06,140.74 C653.64,140.41 654.22,140.07 654.80,139.73 C655.38,139.39 655.96,139.06 656.54,138.73 C657.12,138.39 657.70,138.06 658.28,137.73 C658.87,137.40 659.45,137.07 660.03,136.74 C660.62,136.41 661.20,136.08 661.79,135.76 C662.38,135.43 662.96,135.11 663.55,134.79 C664.14,134.46 664.73,134.14 665.31,133.82 C665.90,133.50 666.49,133.18 667.08,132.86 C667.67,132.55 668.26,132.23 668.86,131.91 C669.45,131.60 670.04,131.28 670.63,130.97 C671.22,130.66 671.82,130.34 672.41,130.03 C673.01,129.72 673.60,129.41 674.19,129.10 C674.79,128.79 675.38,128.48 675.98,128.18 C676.58,127.87 677.17,127.56 677.77,127.26 C678.37,126.95 678.96,126.65 679.56,126.34 C680.16,126.04 680.75,125.74 681.35,125.44 C681.95,125.13 682.55,124.83 683.15,124.53 C683.75,124.23 684.35,123.94 684.95,123.64 C685.55,123.34 686.15,123.04 686.75,122.75 C687.35,122.45 687.95,122.16 688.55,121.87 C689.15,121.57 689.76,121.28 690.36,120.99 C690.96,120.70 691.56,120.41 692.17,120.12 C692.77,119.83 693.37,119.55 693.98,119.26 C694.58,118.97 695.19,118.69 695.79,118.41 C696.40,118.13 697.01,117.84 697.61,117.56 C698.22,117.28 698.83,117.01 699.43,116.73 C700.04,116.45 700.65,116.18 701.26,115.90 C701.87,115.63 702.48,115.36 703.09,115.09 C703.70,114.82 704.31,114.55 704.92,114.28 C705.53,114.01 706.14,113.75 706.75,113.48 C707.37,113.22 707.98,112.96 708.59,112.70 C709.21,112.44 709.82,112.18 710.44,111.92 C711.05,111.66 711.67,111.41 712.28,111.16 C712.90,110.90 713.51,110.65 714.13,110.40 C714.75,110.16 715.37,109.91 715.99,109.66 C716.61,109.42 717.23,109.18 717.85,108.94 C718.47,108.70 719.09,108.46 719.71,108.22 C720.33,107.98 720.95,107.75 721.58,107.52 C722.20,107.29 722.82,107.06 723.45,106.83 C724.07,106.60 724.70,106.38 725.33,106.15 C725.95,105.93 726.58,105.71 727.21,105.49 C727.83,105.27 728.46,105.06 729.09,104.85 C729.72,104.63 730.35,104.42 730.98,104.21 C731.62,104.00 732.25,103.80 732.88,103.60 C733.51,103.39 734.15,103.19 734.78,102.99 C735.42,102.80 736.05,102.60 736.69,102.41 C737.32,102.22 737.96,102.03 738.60,101.84 C739.24,101.65 739.87,101.47 740.51,101.28 C741.15,101.10 741.80,100.92 742.44,100.75 C743.08,100.57 743.72,100.40 744.36,100.23 C745.01,100.06 745.65,99.89 746.30,99.73 C746.94,99.56 747.59,99.40 748.24,99.24 C748.88,99.08 749.53,98.93 750.18,98.78 C750.83,98.62 751.48,98.47 752.13,98.33 C752.78,98.18 753.43,98.04 754.09,97.89 C754.74,97.75 755.39,97.61 756.05,97.47 C756.70,97.34 757.35,97.20 758.01,97.07 C758.66,96.93 759.32,96.80 759.98,96.67 C760.63,96.54 761.29,96.41 761.95,96.29 C762.60,96.16 763.26,96.03 763.92,95.91 C764.58,95.78 765.24,95.66 765.90,95.54 C766.56,95.42 767.21,95.29 767.87,95.17 C768.53,95.05 769.19,94.93 769.85,94.81 C770.51,94.69 771.17,94.57 771.83,94.45 C772.49,94.33 773.15,94.21 773.81,94.10 C774.47,93.98 775.14,93.86 775.80,93.74 C776.46,93.62 777.12,93.50 777.78,93.38 C778.44,93.26 779.10,93.14 779.76,93.01 C780.42,92.89 781.08,92.77 781.73,92.64 C782.39,92.52 783.05,92.40 783.71,92.27 C784.37,92.14 785.03,92.02 785.69,91.89 C786.34,91.76 787.00,91.63 787.66,91.50 C788.32,91.36 788.97,91.23 789.63,91.09 C790.28,90.96 790.94,90.82 791.59,90.68 C792.25,90.54 792.90,90.40 793.56,90.25 C794.21,90.11 794.86,89.96 795.52,89.82 C796.17,89.67 796.82,89.52 797.47,89.37 C798.13,89.22 798.78,89.06 799.43,88.91 C800.08,88.75 800.73,88.60 801.38,88.44 C802.03,88.28 802.68,88.12 803.33,87.96 C803.98,87.80 804.62,87.64 805.27,87.48 C805.92,87.32 806.57,87.15 807.22,86.99 C807.86,86.82 808.51,86.65 809.16,86.49 C809.81,86.32 810.45,86.15 811.10,85.98 C811.74,85.81 812.39,85.64 813.04,85.47 C813.68,85.29 814.33,85.12 814.97,84.95 C815.62,84.77 816.26,84.60 816.91,84.42 C817.55,84.25 818.20,84.07 818.84,83.89 C819.49,83.72 820.13,83.54 820.77,83.36 C821.42,83.18 822.06,83.01 822.71,82.83 C823.35,82.65 823.99,82.47 824.64,82.29 C825.28,82.11 825.92,81.93 826.57,81.75 C827.21,81.57 827.85,81.39 828.50,81.21 C829.14,81.03 829.78,80.85 830.42,80.67 C831.07,80.49 831.71,80.30 832.35,80.12 C833.00,79.94 833.64,79.76 834.28,79.58 C834.93,79.40 835.57,79.22 836.21,79.04 C836.85,78.86 837.50,78.68 838.14,78.50 C838.78,78.32 839.43,78.14 840.07,77.96 C840.71,77.78 841.36,77.60 842.00,77.42 C842.64,77.25 843.29,77.07 843.93,76.89 C844.58,76.71 845.22,76.54 845.86,76.36 C846.51,76.19 847.15,76.01 847.80,75.84 C848.44,75.66 849.09,75.49 849.73,75.32 C850.38,75.14 851.02,74.97 851.67,74.80 C852.31,74.63 852.96,74.46 853.60,74.29 C854.25,74.12 854.90,73.96 855.54,73.79 C856.19,73.62 856.84,73.46 857.48,73.29 C858.13,73.13 858.78,72.97 859.43,72.81 C860.07,72.65 860.72,72.49 861.37,72.33 C862.02,72.17 862.67,72.01 863.32,71.86 C863.97,71.70 864.62,71.55 865.27,71.40 C865.92,71.24 866.57,71.09 867.22,70.94 C867.87,70.80 868.52,70.65 869.17,70.50 C869.83,70.36 870.48,70.21 871.13,70.07 C871.78,69.93 872.44,69.79 873.09,69.66 C873.75,69.52 874.40,69.38 875.06,69.25 C875.71,69.12 876.37,68.98 877.02,68.86 C877.68,68.73 878.34,68.60 879.00,68.48 C879.65,68.35 880.31,68.23 880.97,68.11 C881.63,67.99 882.29,67.87 882.95,67.76 C883.61,67.65 884.27,67.53 884.93,67.42 C885.59,67.31 886.26,67.21 886.92,67.10 C887.58,67.00 888.25,66.90 888.91,66.80 C889.57,66.70 890.24,66.60 890.91,66.51 C891.57,66.42 892.57,66.29 892.91,66.24" fill="none" stroke="#009200" stroke-width="2" stroke-linejoin="round" shape-rendering="crispEdges"/>
<path d="M4.50,256.11 C4.83,256.08 5.83,255.98 6.49,255.92 C7.16,255.86 7.82,255.80 8.49,255.74 C9.16,255.69 9.82,255.63 10.49,255.58 C11.16,255.53 11.82,255.48 12.49,255.44 C13.16,255.39 13.83,255.35 14.50,255.31 C15.16,255.27 15.83,255.24 16.50,255.20 C17.17,255.17 17.84,255.14 18.51,255.12 C19.17,255.09 19.84,255.07 20.51,255.06 C21.18,255.04 21.85,255.02 22.52,255.02 C23.19,255.01 23.86,255.00 24.52,255.00 C25.19,255.00 25.86,255.01 26.53,255.01 C27.20,255.02 27.87,255.04 28.53,255.05 C29.20,255.07 29.87,255.10 30.53,255.12 C31.20,255.15 31.87,255.18 32.53,255.22 C33.20,255.25 33.87,255.29 34.53,255.34 C35.20,255.38 35.86,255.43 36.53,255.48 C37.19,255.52 37.86,255.58 38.52,255.63 C39.19,255.68 39.85,255.74 40.52,255.80 C41.18,255.85 41.85,255.91 42.51,255.97 C43.18,256.03 43.84,256.09 44.51,256.15 C45.17,256.21 45.84,256.27 46.50,256.33 C47.17,256.39 47.83,256.45 48.50,256.51 C49.16,256.57 49.82,256.63 50.49,256.69 C51.15,256.74 51.82,256.80 52.48,256.85 C53.15,256.91 53.81,256.96 54.48,257.01 C55.14,257.06 55.81,257.11 56.48,257.16 C57.14,257.21 57.81,257.26 58.47,257.30 C59.14,257.35 59.80,257.39 60.47,257.44 C61.13,257.48 61.80,257.53 62.47,257.57 C63.13,257.61 63.80,257.66 64.46,257.70 C65.13,257.74 65.80,257.78 66.46,257.82 C67.13,257.86 67.79,257.90 68.46,257.93 C69.13,257.97 69.79,258.01 70.46,258.05 C71.13,258.08 71.79,258.12 72.46,258.16 C73.12,258.19 73.79,258.23 74.46,258.27 C75.12,258.30 75.79,258.34 76.46,258.37 C77.12,258.41 77.79,258.44 78.46,258.48 C79.12,258.51 79.79,258.54 80.46,258.58 C81.13,258.61 81.79,258.65 82.46,258.68 C83.13,258.72 83.79,258.75 84.46,258.78 C85.13,258.82 85.79,258.85 86.46,258.89 C87.13,258.92 87.80,258.96 88.46,258.99 C89.13,259.03 89.80,259.06 90.46,259.10 C91.13,259.13 91.80,259.17 92.47,259.21 C93.13,259.24 93.80,259.28 94.47,259.32 C95.14,259.36 95.80,259.39 96.47,259.43 C97.14,259.47 97.80,259.51 98.47,259.55 C99.14,259.59 99.81,259.63 100.47,259.67 C101.14,259.72 101.81,259.76 102.48,259.80 C103.14,259.84 103.81,259.89 104.48,259.93 C105.15,259.98 105.81,260.02 106.48,260.06 C107.15,260.11 107.82,260.15 108.48,260.20 C109.15,260.24 109.82,260.29 110.49,260.33 C111.15,260.37 111.82,260.42 112.49,260.46 C113.16,260.50 113.82,260.55 114.49,260.59 C115.16,260.63 115.83,260.67 116.49,260.71 C117.16,260.75 117.83,260.79 118.49,260.83 C119.16,260.86 119.83,260.90 120.50,260.93 C121.16,260.97 121.83,261.00 122.50,261.04 C123.17,261.07 123.83,261.10 124.50,261.13 C125.17,261.15 125.84,261.18 126.50,261.21 C127.17,261.23 127.84,261.25 128.51,261.27 C129.17,261.29 129.84,261.31 130.51,261.33 C131.17,261.34 131.84,261.36 132.51,261.37 C133.18,261.38 133.84,261.38 134.51,261.39 C135.18,261.39 135.84,261.40 136.51,261.39 C137.18,261.39 137.85,261.39 138.51,261.38 C139.18,261.37 139.85,261.36 140.51,261.35 C141.18,261.33 141.85,261.31 142.52,261.29 C143.18,261.27 143.85,261.24 144.52,261.21 C145.18,261.18 145.85,261.15 146.52,261.11 C147.18,261.07 147.85,261.03 148.52,260.99 C149.18,260.94 149.85,260.89 150.52,260.85 C151.18,260.80 151.85,260.74 152.52,260.69 C153.18,260.64 153.85,260.58 154.52,260.53 C155.19,260.47 155.85,260.41 156.52,260.35 C157.19,260.30 157.85,260.24 158.52,260.18 C159.19,260.12 159.86,260.07 160.52,260.01 C161.19,259.95 161.86,259.90 162.53,259.84 C163.19,259.79 163.86,259.74 164.53,259.69 C165.20,259.64 165.86,259.59 166.53,259.54 C167.20,259.50 167.87,259.46 168.54,259.42 C169.21,259.38 169.88,259.34 170.54,259.31 C171.21,259.28 171.88,259.25 172.55,259.22 C173.22,259.20 173.89,259.18 174.56,259.15 C175.23,259.13 175.90,259.11 176.57,259.09 C177.24,259.07 177.90,259.05 178.57,259.03 C179.24,259.01 179.91,258.99 180.58,258.96 C181.24,258.94 181.91,258.91 182.58,258.88 C183.25,258.85 183.91,258.82 184.58,258.78 C185.24,258.74 185.91,258.70 186.57,258.65 C187.24,258.61 187.90,258.55 188.57,258.49 C189.23,258.43 189.89,258.37 190.55,258.29 C191.21,258.22 191.87,258.13 192.53,258.05 C193.19,257.96 193.85,257.86 194.51,257.76 C195.17,257.65 195.82,257.54 196.48,257.43 C197.14,257.32 197.79,257.20 198.45,257.07 C199.10,256.95 199.76,256.82 200.41,256.69 C201.07,256.56 201.72,256.42 202.38,256.28 C203.03,256.14 203.68,256.00 204.34,255.86 C204.99,255.72 205.65,255.57 206.30,255.43 C206.95,255.29 207.61,255.14 208.26,254.99 C208.91,254.85 209.57,254.70 210.22,254.56 C210.87,254.42 211.53,254.27 212.18,254.13 C212.84,253.99 213.49,253.85 214.15,253.71 C214.80,253.57 215.46,253.44 216.11,253.31 C216.77,253.17 217.42,253.04 218.08,252.91 C218.74,252.78 219.39,252.66 220.05,252.53 C220.71,252.40 221.36,252.28 222.02,252.15 C222.67,252.02 223.33,251.90 223.99,251.77 C224.64,251.64 225.30,251.52 225.96,251.39 C226.61,251.26 227.27,251.14 227.92,251.01 C228.58,250.88 229.23,250.75 229.89,250.61 C230.54,250.48 231.20,250.35 231.85,250.21 C232.50,250.07 233.16,249.93 233.81,249.79 C234.46,249.65 235.12,249.51 235.77,249.37 C236.42,249.22 237.07,249.08 237.72,248.93 C238.38,248.79 239.03,248.64 239.68,248.49 C240.33,248.34 240.98,248.19 241.63,248.04 C242.28,247.89 242.93,247.74 243.59,247.59 C244.24,247.45 244.89,247.29 245.54,247.15 C246.19,247.00 246.84,246.85 247.49,246.70 C248.14,246.55 248.79,246.40 249.44,246.25 C250.10,246.10 250.75,245.96 251.40,245.81 C252.05,245.66 252.70,245.52 253.35,245.38 C254.01,245.23 254.66,245.09 255.31,244.95 C255.96,244.81 256.62,244.67 257.27,244.54 C257.92,244.40 258.58,244.27 259.23,244.13 C259.88,244.00 260.54,243.86 261.19,243.73 C261.85,243.60 262.50,243.47 263.16,243.33 C263.81,243.20 264.46,243.06 265.12,242.93 C265.77,242.79 266.43,242.66 267.08,242.52 C267.73,242.38 268.39,242.24 269.04,242.10 C269.69,241.96 270.34,241.81 271.00,241.67 C271.65,241.52 272.30,241.37 272.95,241.22 C273.60,241.07 274.26,240.92 274.91,240.77 C275.56,240.62 276.21,240.47 276.86,240.32 C277.51,240.18 278.17,240.03 278.82,239.89 C279.47,239.75 280.12,239.61 280.78,239.47 C281.43,239.34 282.09,239.21 282.74,239.08 C283.39,238.96 284.05,238.84 284.71,238.72 C285.36,238.61 286.02,238.50 286.68,238.40 C287.33,238.29 287.99,238.19 288.65,238.09 C289.31,238.00 289.97,237.91 290.63,237.82 C291.29,237.73 291.95,237.65 292.61,237.57 C293.27,237.49 293.93,237.42 294.59,237.34 C295.25,237.27 295.92,237.20 296.58,237.14 C297.24,237.08 297.90,237.01 298.57,236.96 C299.23,236.90 299.90,236.84 300.56,236.79 C301.22,236.74 301.89,236.69 302.55,236.65 C303.22,236.60 303.89,236.56 304.55,236.52 C305.22,236.48 305.88,236.44 306.55,236.41 C307.22,236.37 307.88,236.34 308.55,236.31 C309.22,236.27 309.88,236.25 310.55,236.22 C311.22,236.19 311.89,236.17 312.56,236.14 C313.22,236.12 313.89,236.10 314.56,236.07 C315.23,236.05 315.90,236.03 316.57,236.02 C317.23,236.00 317.90,235.98 318.57,235.96 C319.24,235.95 319.91,235.93 320.58,235.92 C321.25,235.90 321.92,235.89 322.59,235.87 C323.26,235.86 323.93,235.85 324.60,235.84 C325.27,235.82 325.94,235.81 326.60,235.80 C327.27,235.78 327.94,235.77 328.61,235.76 C329.28,235.74 329.95,235.73 330.62,235.72 C331.29,235.70 331.96,235.69 332.63,235.67 C333.30,235.66 333.97,235.65 334.64,235.63 C335.31,235.62 335.97,235.60 336.64,235.59 C337.31,235.57 337.98,235.55 338.65,235.54 C339.32,235.52 339.99,235.51 340.66,235.49 C341.33,235.47 342.00,235.45 342.66,235.44 C343.33,235.42 344.00,235.40 344.67,235.38 C345.34,235.36 346.01,235.35 346.68,235.33 C347.35,235.31 348.01,235.29 348.68,235.27 C349.35,235.25 350.02,235.23 350.69,235.21 C351.36,235.19 352.02,235.17 352.69,235.15 C353.36,235.12 354.03,235.10 354.70,235.08 C355.37,235.06 356.03,235.04 356.70,235.01 C357.37,234.99 358.04,234.97 358.71,234.94 C359.38,234.92 360.04,234.89 360.71,234.87 C361.38,234.84 362.05,234.82 362.72,234.79 C363.38,234.77 364.05,234.74 364.72,234.71 C365.39,234.69 366.05,234.66 366.72,234.63 C367.39,234.60 368.06,234.57 368.72,234.54 C369.39,234.52 370.06,234.49 370.73,234.46 C371.39,234.43 372.06,234.40 372.73,234.36 C373.40,234.33 374.06,234.30 374.73,234.27 C375.40,234.24 376.07,234.21 376.73,234.17 C377.40,234.14 378.07,234.10 378.73,234.07 C379.40,234.04 380.07,234.00 380.73,233.97 C381.40,233.93 382.07,233.89 382.73,233.86 C383.40,233.82 384.07,233.78 384.73,233.74 C385.40,233.71 386.07,233.67 386.73,233.63 C387.40,233.59 388.07,233.55 388.73,233.51 C389.40,233.47 390.07,233.43 390.73,233.38 C391.40,233.34 392.07,233.30 392.73,233.26 C393.40,233.21 394.06,233.17 394.73,233.13 C395.40,233.08 396.06,233.04 396.73,232.99 C397.39,232.94 398.06,232.90 398.72,232.85 C399.39,232.80 400.06,232.75 400.72,232.70 C401.39,232.66 402.05,232.61 402.72,232.56 C403.38,232.51 404.05,232.46 404.71,232.40 C405.38,232.35 406.05,232.30 406.71,232.25 C407.38,232.19 408.04,232.14 408.71,232.08 C409.37,232.03 410.04,231.97 410.70,231.92 C411.37,231.86 412.03,231.81 412.70,231.75 C413.36,231.69 414.03,231.63 414.69,231.57 C415.36,231.51 416.02,231.45 416.69,231.39 C417.35,231.33 418.01,231.27 418.68,231.21 C419.34,231.15 420.01,231.09 420.67,231.02 C421.34,230.96 422.00,230.89 422.67,230.83 C423.33,230.76 424.00,230.70 424.66,230.63 C425.33,230.57 425.99,230.50 426.65,230.43 C427.32,230.36 427.98,230.29 428.65,230.22 C429.31,230.16 429.98,230.09 430.64,230.01 C431.31,229.94 431.97,229.87 432.63,229.80 C433.30,229.73 433.96,229.65 434.63,229.58 C435.29,229.50 435.96,229.43 436.62,229.35 C437.29,229.28 437.95,229.20 438.61,229.12 C439.28,229.05 439.94,228.97 440.61,228.89 C441.27,228.81 441.94,228.73 442.60,228.65 C443.26,228.57 443.93,228.49 444.59,228.41 C445.26,228.33 445.92,228.24 446.59,228.16 C447.25,228.08 447.92,227.99 448.58,227.91 C449.24,227.82 449.91,227.74 450.57,227.65 C451.24,227.56 451.90,227.48 452.57,227.39 C453.23,227.30 453.90,227.21 454.56,227.12 C455.23,227.03 455.89,226.94 456.55,226.85 C457.22,226.76 457.88,226.67 458.55,226.57 C459.21,226.48 459.88,226.39 460.54,226.29 C461.21,226.19 461.87,226.10 462.54,226.00 C463.20,225.90 463.86,225.80 464.53,225.70 C465.19,225.60 465.85,225.50 466.52,225.39 C467.18,225.29 467.84,225.18 468.50,225.07 C469.16,224.96 469.82,224.84 470.48,224.73 C471.14,224.61 471.80,224.49 472.46,224.37 C473.12,224.25 473.78,224.12 474.43,223.99 C475.09,223.86 475.74,223.73 476.40,223.59 C477.05,223.45 477.70,223.31 478.36,223.16 C479.01,223.02 479.66,222.87 480.31,222.71 C480.95,222.56 481.60,222.40 482.25,222.23 C482.89,222.07 483.53,221.90 484.18,221.72 C484.82,221.55 485.46,221.37 486.10,221.18 C486.73,220.99 487.37,220.80 488.01,220.60 C488.64,220.41 489.27,220.20 489.90,219.99 C490.53,219.78 491.16,219.56 491.79,219.34 C492.41,219.11 493.03,218.88 493.65,218.64 C494.28,218.40 494.89,218.16 495.51,217.90 C496.13,217.65 496.74,217.39 497.35,217.12 C497.96,216.85 498.57,216.57 499.17,216.29 C499.78,216.01 500.38,215.72 500.98,215.42 C501.58,215.13 502.18,214.83 502.78,214.52 C503.37,214.21 503.97,213.90 504.56,213.59 C505.15,213.27 505.74,212.95 506.33,212.63 C506.91,212.30 507.50,211.97 508.08,211.64 C508.67,211.31 509.25,210.98 509.83,210.64 C510.41,210.30 510.99,209.96 511.56,209.62 C512.14,209.28 512.71,208.94 513.29,208.60 C513.86,208.26 514.43,207.91 515.00,207.57 C515.57,207.22 516.14,206.87 516.71,206.52 C517.28,206.18 517.84,205.83 518.41,205.47 C518.97,205.12 519.54,204.77 520.10,204.42 C520.66,204.06 521.22,203.71 521.78,203.35 C522.34,202.99 522.90,202.63 523.46,202.27 C524.02,201.91 524.58,201.55 525.14,201.19 C525.69,200.82 526.25,200.46 526.80,200.09 C527.36,199.72 527.92,199.36 528.47,198.99 C529.02,198.61 529.58,198.24 530.13,197.87 C530.69,197.50 531.24,197.12 531.79,196.74 C532.34,196.37 532.90,195.99 533.45,195.61 C534.00,195.23 534.55,194.84 535.09,194.46 C535.64,194.07 536.19,193.69 536.74,193.30 C537.28,192.91 537.83,192.52 538.37,192.13 C538.92,191.73 539.46,191.34 540.00,190.94 C540.54,190.55 541.08,190.15 541.62,189.75 C542.16,189.35 542.70,188.94 543.23,188.54 C543.77,188.13 544.30,187.72 544.83,187.31 C545.36,186.90 545.89,186.49 546.42,186.08 C546.95,185.66 547.47,185.24 548.00,184.82 C548.52,184.40 549.04,183.98 549.56,183.56 C550.08,183.13 550.60,182.70 551.11,182.27 C551.63,181.84 552.14,181.41 552.65,180.98 C553.16,180.54 553.66,180.10 554.17,179.66 C554.67,179.22 555.17,178.78 555.67,178.33 C556.17,177.89 556.66,177.44 557.16,176.99 C557.65,176.54 558.14,176.08 558.63,175.63 C559.11,175.17 559.60,174.71 560.08,174.24 C560.56,173.78 561.03,173.31 561.51,172.85 C561.98,172.38 562.45,171.90 562.92,171.43 C563.39,170.96 563.85,170.48 564.31,170.00 C564.77,169.52 565.23,169.03 565.69,168.55 C566.14,168.06 566.60,167.58 567.05,167.09 C567.50,166.59 567.94,166.10 568.39,165.61 C568.83,165.11 569.27,164.61 569.71,164.11 C570.15,163.61 570.59,163.11 571.02,162.61 C571.46,162.10 571.89,161.59 572.32,161.08 C572.75,160.58 573.18,160.06 573.60,159.55 C574.02,159.04 574.45,158.52 574.87,158.00 C575.29,157.49 575.71,156.97 576.12,156.45 C576.54,155.93 576.95,155.40 577.36,154.88 C577.77,154.35 578.18,153.83 578.59,153.30 C579.00,152.77 579.40,152.24 579.81,151.71 C580.21,151.18 580.61,150.64 581.01,150.11 C581.42,149.57 581.81,149.04 582.21,148.50 C582.61,147.96 583.00,147.42 583.40,146.88 C583.79,146.34 584.18,145.80 584.57,145.26 C584.96,144.72 585.35,144.17 585.74,143.63 C586.13,143.08 586.52,142.54 586.90,141.99 C587.29,141.44 587.67,140.89 588.05,140.34 C588.44,139.79 588.82,139.24 589.20,138.69 C589.58,138.14 589.96,137.59 590.34,137.04 C590.72,136.48 591.10,135.93 591.47,135.37 C591.85,134.82 592.22,134.27 592.60,133.71 C592.98,133.15 593.35,132.60 593.72,132.04 C594.10,131.49 594.47,130.93 594.84,130.37 C595.21,129.81 595.59,129.25 595.96,128.70 C596.33,128.14 596.70,127.58 597.07,127.02 C597.44,126.46 597.81,125.90 598.18,125.34 C598.55,124.78 598.92,124.22 599.29,123.67 C599.66,123.11 600.03,122.55 600.39,121.99 C600.76,121.43 601.13,120.87 601.50,120.31 C601.87,119.75 602.24,119.19 602.61,118.63 C602.98,118.07 603.35,117.51 603.72,116.96 C604.09,116.40 604.46,115.84 604.83,115.28 C605.20,114.72 605.57,114.17 605.94,113.61 C606.31,113.05 606.68,112.50 607.05,111.94 C607.43,111.39 607.80,110.83 608.17,110.28 C608.55,109.72 608.92,109.17 609.30,108.62 C609.67,108.06 610.05,107.51 610.42,106.96 C610.80,106.41 611.18,105.86 611.56,105.31 C611.94,104.76 612.32,104.21 612.70,103.66 C613.08,103.11 613.46,102.57 613.85,102.02 C614.23,101.48 614.62,100.93 615.00,100.39 C615.39,99.85 615.78,99.30 616.17,98.76 C616.56,98.22 616.95,97.68 617.34,97.15 C617.74,96.61 618.13,96.07 618.53,95.54 C618.92,95.00 619.32,94.47 619.72,93.93 C620.12,93.40 620.52,92.87 620.93,92.34 C621.33,91.81 621.74,91.29 622.15,90.76 C622.55,90.24 622.97,89.71 623.38,89.19 C623.79,88.67 624.21,88.15 624.62,87.63 C625.04,87.11 625.46,86.60 625.88,86.08 C626.30,85.57 626.73,85.05 627.16,84.54 C627.58,84.03 628.01,83.53 628.45,83.02 C628.88,82.51 629.31,82.01 629.75,81.51 C630.19,81.01 630.63,80.51 631.08,80.01 C631.52,79.52 631.97,79.02 632.42,78.53 C632.87,78.04 633.32,77.55 633.77,77.06 C634.23,76.57 634.69,76.08 635.15,75.60 C635.61,75.12 636.07,74.63 636.53,74.15 C637.00,73.67 637.46,73.19 637.93,72.71 C638.40,72.23 638.87,71.75 639.34,71.27 C639.81,70.80 640.28,70.32 640.76,69.84 C641.23,69.37 641.71,68.89 642.18,68.42 C642.66,67.94 643.14,67.46 643.62,66.99 C644.09,66.51 644.57,66.04 645.05,65.56 C645.53,65.08 646.01,64.61 646.49,64.13 C646.97,63.65 647.45,63.17 647.93,62.69 C648.41,62.21 648.89,61.73 649.37,61.25 C649.85,60.77 650.33,60.29 650.81,59.81 C651.29,59.33 651.78,58.85 652.26,58.38 C652.75,57.90 653.23,57.43 653.72,56.96 C654.21,56.50 654.71,56.04 655.20,55.58 C655.70,55.13 656.20,54.68 656.70,54.24 C657.21,53.80 657.72,53.37 658.23,52.95 C658.75,52.53 659.27,52.12 659.80,51.72 C660.33,51.33 660.86,50.94 661.40,50.57 C661.94,50.20 662.49,49.84 663.05,49.49 C663.60,49.15 664.17,48.82 664.74,48.51 C665.31,48.20 665.90,47.91 666.49,47.64 C667.08,47.36 667.68,47.11 668.29,46.86 C668.90,46.62 669.52,46.40 670.14,46.18 C670.77,45.97 671.40,45.77 672.03,45.58 C672.67,45.39 673.31,45.22 673.96,45.05 C674.61,44.88 675.26,44.72 675.92,44.57 C676.57,44.41 677.23,44.27 677.89,44.13 C678.55,43.99 679.22,43.85 679.88,43.72 C680.54,43.59 681.21,43.46 681.88,43.33 C682.54,43.20 683.21,43.07 683.87,42.94 C684.54,42.81 685.21,42.68 685.87,42.55 C686.53,42.42 687.20,42.29 687.86,42.17 C688.53,42.04 689.19,41.92 689.86,41.80 C690.52,41.68 691.18,41.56 691.85,41.44 C692.51,41.33 693.17,41.21 693.83,41.11 C694.50,41.00 695.16,40.89 695.82,40.80 C696.48,40.70 697.14,40.60 697.81,40.52 C698.47,40.43 699.13,40.35 699.79,40.27 C700.45,40.20 701.11,40.13 701.77,40.07 C702.44,40.01 703.10,39.95 703.76,39.91 C704.42,39.86 705.08,39.83 705.74,39.80 C706.40,39.77 707.06,39.75 707.72,39.75 C708.38,39.74 709.04,39.74 709.70,39.75 C710.36,39.77 711.02,39.79 711.68,39.82 C712.34,39.85 713.00,39.90 713.67,39.94 C714.33,39.99 714.99,40.05 715.65,40.11 C716.31,40.17 716.97,40.23 717.63,40.30 C718.29,40.36 718.96,40.43 719.62,40.50 C720.28,40.57 720.94,40.64 721.61,40.70 C722.27,40.77 722.93,40.84 723.60,40.90 C724.26,40.97 724.93,41.03 725.59,41.10 C726.26,41.17 726.92,41.23 727.59,41.30 C728.25,41.36 728.92,41.43 729.58,41.49 C730.25,41.55 730.91,41.62 731.58,41.68 C732.25,41.75 732.91,41.81 733.58,41.88 C734.25,41.94 734.91,42.00 735.58,42.07 C736.25,42.13 736.91,42.20 737.58,42.26 C738.25,42.33 738.91,42.39 739.58,42.45 C740.25,42.52 740.91,42.58 741.58,42.65 C742.25,42.71 742.91,42.78 743.58,42.85 C744.25,42.91 744.91,42.98 745.58,43.05 C746.25,43.11 746.91,43.18 747.58,43.25 C748.24,43.32 748.91,43.38 749.58,43.45 C750.24,43.52 750.91,43.59 751.57,43.66 C752.24,43.73 752.90,43.81 753.57,43.88 C754.23,43.95 754.89,44.02 755.56,44.10 C756.22,44.17 756.89,44.25 757.55,44.32 C758.21,44.40 758.88,44.48 759.54,44.55 C760.20,44.63 760.87,44.71 761.53,44.79 C762.19,44.87 762.85,44.96 763.52,45.04 C764.18,45.13 764.84,45.21 765.50,45.30 C766.16,45.38 766.83,45.47 767.49,45.56 C768.15,45.65 768.81,45.75 769.47,45.84 C770.13,45.93 770.79,46.03 771.45,46.13 C772.11,46.22 772.77,46.32 773.43,46.43 C774.09,46.53 774.75,46.63 775.41,46.74 C776.07,46.84 776.73,46.95 777.39,47.06 C778.05,47.17 778.71,47.28 779.37,47.40 C780.03,47.51 780.68,47.63 781.34,47.75 C782.00,47.87 782.66,48.00 783.32,48.12 C783.97,48.25 784.63,48.37 785.29,48.51 C785.95,48.64 786.60,48.77 787.26,48.91 C787.92,49.04 788.57,49.18 789.23,49.33 C789.88,49.47 790.54,49.61 791.19,49.76 C791.85,49.91 792.51,50.06 793.16,50.21 C793.82,50.36 794.47,50.52 795.13,50.67 C795.78,50.82 796.44,50.98 797.09,51.13 C797.74,51.28 798.40,51.43 799.05,51.57 C799.71,51.72 800.36,51.87 801.02,52.01 C801.68,52.15 802.33,52.29 802.99,52.42 C803.64,52.55 804.30,52.68 804.96,52.80 C805.61,52.92 806.27,53.04 806.93,53.14 C807.58,53.25 808.24,53.35 808.90,53.44 C809.56,53.53 810.22,53.62 810.88,53.69 C811.53,53.76 812.19,53.82 812.86,53.87 C813.52,53.93 814.18,53.97 814.84,53.99 C815.50,54.02 816.16,54.04 816.83,54.04 C817.49,54.04 818.16,54.03 818.82,54.01 C819.49,53.99 820.15,53.96 820.82,53.92 C821.48,53.88 822.15,53.83 822.82,53.76 C823.48,53.70 824.15,53.63 824.81,53.56 C825.48,53.48 826.14,53.39 826.81,53.30 C827.47,53.21 828.14,53.11 828.80,53.00 C829.47,52.90 830.13,52.78 830.79,52.67 C831.46,52.55 832.12,52.43 832.78,52.31 C833.44,52.18 834.10,52.06 834.76,51.93 C835.41,51.79 836.07,51.66 836.73,51.52 C837.38,51.38 838.04,51.24 838.69,51.10 C839.35,50.96 840.00,50.81 840.65,50.66 C841.30,50.51 841.96,50.36 842.61,50.20 C843.26,50.05 843.91,49.89 844.56,49.73 C845.21,49.57 845.85,49.41 846.50,49.25 C847.15,49.08 847.80,48.92 848.44,48.75 C849.09,48.58 849.74,48.41 850.38,48.24 C851.03,48.07 851.67,47.89 852.32,47.72 C852.96,47.54 853.60,47.37 854.25,47.19 C854.89,47.01 855.53,46.83 856.18,46.65 C856.82,46.47 857.46,46.29 858.10,46.11 C858.75,45.93 859.39,45.74 860.03,45.56 C860.67,45.38 861.31,45.19 861.95,45.01 C862.59,44.82 863.24,44.64 863.88,44.45 C864.52,44.27 865.16,44.08 865.80,43.89 C866.44,43.71 867.08,43.52 867.72,43.33 C868.36,43.15 869.00,42.96 869.64,42.78 C870.29,42.59 870.93,42.41 871.57,42.22 C872.21,42.04 872.85,41.85 873.49,41.67 C874.14,41.49 874.78,41.30 875.42,41.12 C876.06,40.94 876.71,40.76 877.35,40.58 C877.99,40.40 878.64,40.22 879.28,40.04 C879.92,39.86 880.57,39.69 881.21,39.51 C881.86,39.34 882.50,39.17 883.15,39.00 C883.80,38.82 884.44,38.66 885.09,38.49 C885.74,38.32 886.39,38.16 887.04,37.99 C887.68,37.83 888.33,37.67 888.98,37.51 C889.63,37.35 890.29,37.19 890.94,37.04 C891.59,36.89 892.57,36.66 892.90,36.59" fill="none" stroke="#ffb870" stroke-width="1" shape-rendering="crispEdges"/>
<g shape-rendering="crispEdges"><rect x="3.5" y="251.5" width="4" height="3" fill="#fff" stroke="#000"/><line x1="11.5" y1="252" x2="11.5" y2="254" stroke="#000"/><rect x="9" y="251" width="5" height="1" fill="#000"/><rect x="16" y="251" width="5" height="2" fill="#000"/><rect x="23" y="252" width="5" height="6" fill="#000"/><rect x="29" y="257" width="5" height="4" fill="#000"/><line x1="39.5" y1="262" x2="39.5" y2="264" stroke="#000"/><rect x="37" y="260" width="5" height="2" fill="#000"/><rect x="43" y="262" width="5" height="2" fill="#000"/><line x1="52.5" y1="264" x2="52.5" y2="266" stroke="#000"/><rect x="50" y="262" width="5" height="2" fill="#000"/><rect x="57.5" y="261.5" width="4" height="3" fill="#fff" stroke="#000"/><rect x="64" y="261" width="5" height="2" fill="#000"/><rect x="70" y="262" width="5" height="2" fill="#000"/><line x1="80.5" y1="259" x2="80.5" y2="262" stroke="#000"/><line x1="80.5" y1="263" x2="80.5" y2="264" stroke="#000"/><rect x="78" y="262" width="5" height="1" fill="#000"/><rect x="84.5" y="259.5" width="4" height="3" fill="#fff" stroke="#000"/><rect x="91" y="259" width="5" height="2" fill="#000"/><rect x="98" y="259" width="5" height="2" fill="#000"/><rect x="105" y="259" width="5" height="1" fill="#000"/><rect x="111" y="258" width="5" height="2" fill="#000"/><rect x="119" y="258" width="5" height="2" fill="#000"/><rect x="125.5" y="257.5" width="4" height="2" fill="#fff" stroke="#000"/><rect x="133" y="257" width="5" height="1" fill="#707070"/><rect x="139" y="257" width="5" height="3" fill="#000"/><rect x="146" y="259" width="5" height="2" fill="#000"/><rect x="153" y="260" width="5" height="1" fill="#000"/><rect x="160.5" y="258.5" width="4" height="2" fill="#fff" stroke="#000"/><rect x="166" y="258" width="5" height="2" fill="#000"/><rect x="173" y="258" width="5" height="2" fill="#000"/><rect x="180" y="259" width="5" height="1" fill="#000"/><rect x="187.5" y="253.5" width="4" height="6" fill="#fff" stroke="#000"/><rect x="194.5" y="246.5" width="4" height="6" fill="#fff" stroke="#000"/><rect x="201.5" y="237.5" width="4" height="8" fill="#fff" stroke="#000"/><rect x="207" y="237" width="5" height="4" fill="#000"/><line x1="217.5" y1="239" x2="217.5" y2="240" stroke="#000"/><line x1="217.5" y1="242" x2="217.5" y2="243" stroke="#000"/><rect x="215" y="240" width="5" height="2" fill="#000"/><rect x="221.5" y="238.5" width="4" height="2" fill="#fff" stroke="#000"/><rect x="228" y="237" width="5" height="2" fill="#000"/><rect x="235" y="236" width="5" height="2" fill="#000"/><rect x="242" y="236" width="5" height="1" fill="#707070"/><rect x="248" y="236" width="5" height="1" fill="#707070"/><line x1="258.5" y1="235" x2="258.5" y2="236" stroke="#000"/><rect x="256" y="236" width="5" height="2" fill="#000"/><rect x="262.5" y="235.5" width="4" height="2" fill="#fff" stroke="#000"/><rect x="269.5" y="234.5" width="4" height="2" fill="#fff" stroke="#000"/><rect x="276" y="234" width="5" height="2" fill="#707070"/><rect x="283" y="234" width="5" height="2" fill="#707070"/><rect x="290" y="234" width="5" height="2" fill="#000"/><rect x="297" y="234" width="5" height="2" fill="#000"/><rect x="303" y="234" width="5" height="2" fill="#000"/><rect x="310" y="234" width="5" height="2" fill="#000"/><rect x="317" y="234" width="5" height="2" fill="#000"/><line x1="326.5" y1="235" x2="326.5" y2="236" stroke="#000"/><rect x="324" y="233" width="5" height="2" fill="#000"/><rect x="331.5" y="233.5" width="4" height="2" fill="#fff" stroke="#000"/><rect x="337" y="234" width="5" height="1" fill="#000"/><rect x="344" y="233" width="5" height="1" fill="#000"/><line x1="353.5" y1="234" x2="353.5" y2="235" stroke="#707070"/><rect x="351" y="232" width="5" height="2" fill="#707070"/><rect x="358" y="232" width="5" height="4" fill="#000"/><rect x="364.5" y="233.5" width="4" height="2" fill="#fff" stroke="#000"/><rect x="372.5" y="230.5" width="4" height="3" fill="#fff" stroke="#000"/><rect x="378" y="230" width="5" height="3" fill="#000"/><line x1="387.5" y1="233" x2="387.5" y2="236" stroke="#000"/><rect x="385" y="232" width="5" height="1" fill="#000"/><rect x="392" y="231" width="5" height="2" fill="#000"/><rect x="399.5" y="229.5" width="4" height="2" fill="#fff" stroke="#000"/><rect x="405.5" y="227.5" width="4" height="2" fill="#fff" stroke="#000"/><rect x="413" y="226" width="5" height="2" fill="#000"/><line x1="421.5" y1="225" x2="421.5" y2="226" stroke="#000"/><line x1="421.5" y1="227" x2="421.5" y2="228" stroke="#000"/><rect x="419" y="226" width="5" height="1" fill="#000"/><rect x="427" y="226" width="5" height="1" fill="#000"/><rect x="433" y="226" width="5" height="1" fill="#000"/><rect x="440.5" y="220.5" width="4" height="5" fill="#fff" stroke="#000"/><rect x="447.5" y="215.5" width="4" height="4" fill="#fff" stroke="#000"/><rect x="453" y="215" width="5" height="2" fill="#000"/><rect x="460" y="216" width="5" height="3" fill="#000"/><rect x="467.5" y="214.5" width="4" height="3" fill="#fff" stroke="#000"/><rect x="474.5" y="212.5" width="4" height="2" fill="#fff" stroke="#000"/><rect x="481.5" y="205.5" width="4" height="6" fill="#fff" stroke="#000"/><rect x="487.5" y="196.5" width="4" height="8" fill="#fff" stroke="#000"/><rect x="495.5" y="192.5" width="4" height="2" fill="#fff" stroke="#000"/><rect x="501.5" y="182.5" width="4" height="9" fill="#fff" stroke="#000"/><rect x="509.5" y="178.5" width="4" height="3" fill="#fff" stroke="#000"/><rect x="515.5" y="161.5" width="4" height="16" fill="#fff" stroke="#000"/><line x1="524.5" y1="168" x2="524.5" y2="171" stroke="#000"/><rect x="522" y="161" width="5" height="7" fill="#000"/><rect x="529.5" y="165.5" width="4" height="2" fill="#fff" stroke="#000"/><rect x="536.5" y="162.5" width="4" height="2" fill="#fff" stroke="#000"/><rect x="542.5" y="152.5" width="4" height="9" fill="#fff" stroke="#000"/><rect x="549.5" y="131.5" width="4" height="20" fill="#fff" stroke="#000"/><rect x="556.5" y="119.5" width="4" height="12" fill="#fff" stroke="#000"/><rect x="563.5" y="107.5" width="4" height="11" fill="#fff" stroke="#000"/><rect x="570.5" y="92.5" width="4" height="14" fill="#fff" stroke="#000"/><line x1="579.5" y1="81" x2="579.5" y2="84" stroke="#000"/><rect x="577.5" y="84.5" width="4" height="7" fill="#fff" stroke="#000"/><rect x="583.5" y="66.5" width="4" height="17" fill="#fff" stroke="#000"/><rect x="590.5" y="48.5" width="4" height="17" fill="#fff" stroke="#000"/><rect x="597.5" y="44.5" width="4" height="3" fill="#fff" stroke="#000"/><rect x="604" y="43" width="5" height="2" fill="#000"/><line x1="613.5" y1="43" x2="613.5" y2="52" stroke="#000"/><rect x="611.5" y="28.5" width="4" height="14" fill="#fff" stroke="#000"/><rect x="618" y="28" width="5" height="11" fill="#000"/><line x1="626.5" y1="31" x2="626.5" y2="39" stroke="#000"/><rect x="624" y="39" width="5" height="12" fill="#000"/><line x1="633.5" y1="50" x2="633.5" y2="53" stroke="#000"/><rect x="631.5" y="40.5" width="4" height="9" fill="#fff" stroke="#000"/><rect x="638.5" y="30.5" width="4" height="10" fill="#fff" stroke="#000"/><line x1="647.5" y1="28" x2="647.5" y2="30" stroke="#000"/><rect x="645" y="30" width="5" height="5" fill="#000"/><rect x="652" y="35" width="5" height="11" fill="#000"/><line x1="660.5" y1="44" x2="660.5" y2="44" stroke="#707070"/><rect x="658" y="44" width="5" height="2" fill="#707070"/><line x1="667.5" y1="51" x2="667.5" y2="52" stroke="#000"/><rect x="665" y="45" width="5" height="6" fill="#000"/><rect x="672.5" y="46.5" width="4" height="3" fill="#fff" stroke="#000"/><rect x="679" y="45" width="5" height="1" fill="#000"/><rect x="686" y="45" width="5" height="2" fill="#000"/><line x1="695.5" y1="32" x2="695.5" y2="36" stroke="#000"/><rect x="693.5" y="36.5" width="4" height="10" fill="#fff" stroke="#000"/><line x1="702.5" y1="31" x2="702.5" y2="32" stroke="#000"/><rect x="700.5" y="32.5" width="4" height="3" fill="#fff" stroke="#000"/><rect x="707.5" y="22.5" width="4" height="9" fill="#fff" stroke="#000"/><rect x="713" y="22" width="5" height="21" fill="#000"/><rect x="720" y="43" width="5" height="9" fill="#000"/><rect x="727.5" y="48.5" width="4" height="3" fill="#fff" stroke="#000"/><rect x="734" y="49" width="5" height="2" fill="#000"/><rect x="740.5" y="45.5" width="4" height="4" fill="#fff" stroke="#000"/><line x1="750.5" y1="44" x2="750.5" y2="44" stroke="#707070"/><rect x="748" y="44" width="5" height="2" fill="#707070"/><rect x="754" y="44" width="5" height="10" fill="#000"/><rect x="761" y="54" width="5" height="9" fill="#000"/><line x1="770.5" y1="62" x2="770.5" y2="64" stroke="#000"/><rect x="768.5" y="57.5" width="4" height="4" fill="#fff" stroke="#000"/><line x1="777.5" y1="53" x2="777.5" y2="58" stroke="#000"/><rect x="775" y="58" width="5" height="7" fill="#000"/><line x1="784.5" y1="63" x2="784.5" y2="65" stroke="#000"/><line x1="784.5" y1="66" x2="784.5" y2="68" stroke="#000"/><rect x="782" y="65" width="5" height="1" fill="#000"/><line x1="791.5" y1="65" x2="791.5" y2="67" stroke="#000"/><rect x="789.5" y="62.5" width="4" height="2" fill="#fff" stroke="#000"/><rect x="795.5" y="60.5" width="4" height="2" fill="#fff" stroke="#000"/><line x1="805.5" y1="55" x2="805.5" y2="56" stroke="#000"/><rect x="803.5" y="56.5" width="4" height="3" fill="#fff" stroke="#000"/><line x1="811.5" y1="47" x2="811.5" y2="50" stroke="#000"/><rect x="809.5" y="50.5" width="4" height="5" fill="#fff" stroke="#000"/><rect x="816.5" y="45.5" width="4" height="4" fill="#fff" stroke="#000"/><rect x="823.5" y="36.5" width="4" height="8" fill="#fff" stroke="#000"/><rect x="830.5" y="33.5" width="4" height="2" fill="#fff" stroke="#000"/><rect x="836" y="33" width="5" height="1" fill="#000"/><rect x="844.5" y="26.5" width="4" height="6" fill="#fff" stroke="#000"/><rect x="850" y="27" width="5" height="3" fill="#000"/><line x1="859.5" y1="30" x2="859.5" y2="32" stroke="#000"/><rect x="857" y="29" width="5" height="1" fill="#000"/><rect x="864" y="30" width="5" height="2" fill="#000"/><line x1="873.5" y1="31" x2="873.5" y2="33" stroke="#000"/><rect x="871" y="30" width="5" height="1" fill="#000"/><line x1="879.5" y1="27" x2="879.5" y2="30" stroke="#000"/><rect x="877" y="30" width="5" height="1" fill="#000"/><rect x="884" y="30" width="5" height="2" fill="#000"/><rect x="891" y="32" width="5" height="2" fill="#000"/></g>
<g shape-rendering="crispEdges">
<line x1="0" y1="0.5" x2="969" y2="0.5" stroke="#000"/>
<line x1="0.5" y1="0" x2="0.5" y2="571" stroke="#000"/>
<line x1="968.5" y1="0" x2="968.5" y2="571" stroke="#444"/>
<line x1="1" y1="328.5" x2="968" y2="328.5" stroke="#6e6e6e"/>
<line x1="1" y1="329.5" x2="968" y2="329.5" stroke="#c8c8c8"/>
<line x1="1" y1="343.5" x2="968" y2="343.5" stroke="#000"/>
<line x1="1" y1="457.5" x2="968" y2="457.5" stroke="#000"/>
<rect x="58" y="329" width="2" height="5" fill="#707070"/>
<rect x="202" y="329" width="2" height="5" fill="#707070"/>
<rect x="351" y="329" width="2" height="5" fill="#707070"/>
<rect x="483" y="329" width="2" height="5" fill="#707070"/>
<rect x="633" y="329" width="2" height="5" fill="#707070"/>
<rect x="776" y="329" width="2" height="5" fill="#707070"/>
<line x1="969" y1="26.5" x2="973" y2="26.5" stroke="#555"/>
<line x1="969" y1="57.5" x2="973" y2="57.5" stroke="#555"/>
<line x1="969" y1="88.5" x2="973" y2="88.5" stroke="#555"/>
<line x1="969" y1="119.5" x2="973" y2="119.5" stroke="#555"/>
<line x1="969" y1="150.5" x2="973" y2="150.5" stroke="#555"/>
<line x1="969" y1="180.5" x2="973" y2="180.5" stroke="#555"/>
<line x1="969" y1="211.5" x2="973" y2="211.5" stroke="#555"/>
<line x1="969" y1="241.5" x2="973" y2="241.5" stroke="#555"/>
<line x1="969" y1="272.5" x2="973" y2="272.5" stroke="#555"/>
<line x1="969" y1="302.5" x2="973" y2="302.5" stroke="#555"/>
</g>
<text x="3.6" y="12" clip-path="url(#ct)" fill="#000" stroke="#000">NSEASI - Daily 03/26/2024 Open 104136,</text>
<text x="213.5" y="12" clip-path="url(#ct)" fill="#000" stroke="#000">Hi 104248,</text>
<text x="270.9" y="12" clip-path="url(#ct)" fill="#000" stroke="#000">Lo 103934,</text>
<text x="329.4" y="12" clip-path="url(#ct)" fill="#000" stroke="#000">Close 103952</text>
<text x="403.7" y="12" clip-path="url(#ct)" fill="#000" stroke="#000">(-0.2%) Vol 373,922,176</text>
<text x="526.5" y="12" clip-path="url(#ct)" fill="#ffac68" stroke="#ffac68">MA(Close,15)</text>
<text x="596.4" y="12" clip-path="url(#ct)" fill="#000" stroke="#000">= 103,371.53,</text>
<text x="668.7" y="12" clip-path="url(#ct)" fill="#3010ff" stroke="#3010ff">Mid MA(Close,45)</text>
<text x="758.5" y="12" clip-path="url(#ct)" fill="#000" stroke="#000">= 102,392.96,</text>
<text x="829.8" y="12" clip-path="url(#ct)" fill="#30f830" stroke="#30f830">Long MA(Close,100)</text>
<text x="934.2" y="12" clip-path="url(#ct)" fill="#000" stroke="#000">= 87,761.20</text>
<text x="1020" y="29.3" text-anchor="end" fill="#000" stroke="#000">105,000</text>
<text x="1020" y="60.3" text-anchor="end" fill="#000" stroke="#000">100,000</text>
<text x="1020" y="91.3" text-anchor="end" fill="#000" stroke="#000">95,000</text>
<text x="1020" y="122.3" text-anchor="end" fill="#000" stroke="#000">90,000</text>
<text x="1020" y="153.3" text-anchor="end" fill="#000" stroke="#000">85,000</text>
<text x="1020" y="183.3" text-anchor="end" fill="#000" stroke="#000">80,000</text>
<text x="1020" y="214.3" text-anchor="end" fill="#000" stroke="#000">75,000</text>
<text x="1020" y="244.3" text-anchor="end" fill="#000" stroke="#000">70,000</text>
<text x="1020" y="275.3" text-anchor="end" fill="#000" stroke="#000">65,000</text>
<text x="1020" y="305.3" text-anchor="end" fill="#000" stroke="#000">60,000</text>
<text x="61.0" y="339.2" fill="#000" stroke="#000">Oct</text>
<text x="205.5" y="339.2" fill="#000" stroke="#000">Nov</text>
<text x="355.0" y="339.2" fill="#000" stroke="#000">Dec</text>
<text x="486.0" y="339.2" fill="#000" font-weight="bold" stroke="#000">2024</text>
<text x="636.0" y="339.2" fill="#000" stroke="#000">Feb</text>
<text x="780.0" y="339.2" fill="#000" stroke="#000">Mar</text>
<polygon points="969,33 976,26.5 1024,26.5 1024,40 976,40" fill="#000"/>
<text x="980" y="37" fill="#fff" stroke="#fff">103,952</text>
<rect x="975.5" y="59.3" width="42.2" height="13.4" fill="#009a00"/>
<text x="979.5" y="70.5" fill="#f0fff0" stroke="#f0fff0">98,636</text>
<rect x="975.4" y="195" width="50" height="13.7" fill="#ffff00"/>
<text x="979.3" y="206" fill="#000" stroke="#000">76,418.1</text>
<text x="3.6" y="354.5" fill="#000" stroke="#000">NSEASI - <tspan x="52.1" fill="#ffac68" stroke="#ffac68">RSI(15)</tspan> = 60.90</text>
<line x1="3" y1="403.5" x2="968" y2="403.5" stroke="#d4d4d4" stroke-dasharray="1,1"/>
<polyline points="4.7,409.1 8.8,409.8 14.1,409.9 17.6,410.2 18.8,412.6 22.3,424.3 24.6,432.5 31.6,441.9 37.5,445.4 45.7,449.5 51.6,451.3 58.6,444.2 66.2,448.3 71.5,446.6 79.1,449.1 86.7,435.4 93.8,437.4 100.8,435.4 107.8,434.3 113.1,432.5 121.0,437.3 127.8,430.8 134.0,430.0 138.8,435.2 149.8,442.7 154.6,443.4 162.2,434.2 167.6,434.5 175.9,439.3 181.4,437.3 184.8,427.6 189.6,412.5 193.7,403.0 202.6,385.8 209.5,399.9 216.4,398.1 222.5,395.4 228.0,394.4 236.3,392.6 244.5,392.2 249.1,391.3 258.0,399.1 262.8,396.8 269.7,394.4 276.6,394.4 283.4,393.3 292.4,397.4 297.8,396.1 305.4,399.1 312.3,398.1 319.8,394.7 326.0,393.3 332.8,407.7 341.1,402.9 346.6,401.8 352.1,400.5 360.3,420.8 367.2,413.9 373.3,403.6 380.2,416.0 388.2,414.3 395.1,412.0 401.3,408.4 407.5,400.6 414.3,398.3 422.5,401.5 426.7,400.6 434.9,399.9 441.8,386.9 448.6,377.9 454.1,384.8 462.3,397.2 469.2,389.2 476.8,385.5 482.9,377.9 489.8,370.4 496.7,368.6 502.2,364.9 509.0,362.6 516.6,358.0 524.6,376.8 530.1,375.4 537.0,374.3 543.8,371.3 550.7,365.4 556.2,362.0 563.0,359.9 571.3,357.8 579.5,356.2 589.1,354.1 601.5,354.1 604.2,353.3 611.8,352.4 617.2,362.0 621.4,369.5 625.5,381.9 630.3,381.4 634.4,380.5 639.9,377.7 645.4,381.2 648.8,384.6 654.1,395.0 659.6,395.1 667.8,401.6 674.0,399.5 681.6,399.9 687.1,402.7 695.3,396.1 699.4,395.1 708.3,390.3 711.1,401.6 714.5,413.9 722.1,424.2 728.9,422.4 735.1,423.5 743.3,419.7 749.5,421.1 755.0,429.0 763.2,439.3 769.4,435.6 777.0,442.7 783.8,443.0 791.0,439.7 797.8,436.6 804.0,433.1 811.6,425.6 817.7,422.2 825.3,413.9 830.8,411.9 837.6,411.6 845.2,406.4 851.4,410.5 858.9,411.4 865.1,415.3 873.3,414.2 880.9,414.6 886.4,418.7 892.5,421.9" fill="none" stroke="#ffb870" stroke-width="1" shape-rendering="crispEdges"/>
<line x1="4.5" y1="364.0" x2="968" y2="364.0" stroke="#3cb371" stroke-width="2"/>
<line x1="4.5" y1="383.0" x2="968" y2="383.0" stroke="#3cb371" stroke-width="2"/>
<line x1="4.5" y1="413.0" x2="968" y2="413.0" stroke="#3cb371" stroke-width="2"/>
<line x1="4.5" y1="427.0" x2="968" y2="427.0" stroke="#3cb371" stroke-width="2"/>
<line x1="4.5" y1="444.2" x2="968" y2="444.2" stroke="#000" stroke-width="2"/>
<line x1="969" y1="403.5" x2="973" y2="403.5" stroke="#555"/>
<text x="1020" y="406.8" text-anchor="end" fill="#000" stroke="#000">70</text>
<polygon points="969,421.8 976,415 1024,415 1024,428.7 976,428.7" fill="#ffa050"/>
<text x="980" y="426" fill="#000" stroke="#000">60.9048</text>
<text x="3.6" y="468.4" fill="#000" stroke="#000">NSEASI - <tspan x="52.0" fill="#ff1020" stroke="#ff1020">Volume</tspan> = 373,922,176.00</text>
<line x1="3" y1="476.5" x2="968" y2="476.5" stroke="#d4d4d4" stroke-dasharray="1,1"/>
<line x1="969" y1="476.5" x2="973" y2="476.5" stroke="#555"/>
<text x="1020" y="479.3" text-anchor="end" fill="#000" stroke="#000">1,500M</text>
<line x1="3" y1="510.5" x2="968" y2="510.5" stroke="#d4d4d4" stroke-dasharray="1,1"/>
<line x1="969" y1="510.5" x2="973" y2="510.5" stroke="#555"/>
<text x="1020" y="513.3" text-anchor="end" fill="#000" stroke="#000">1,000M</text>
<line x1="3" y1="545.5" x2="968" y2="545.5" stroke="#d4d4d4" stroke-dasharray="1,1"/>
<line x1="969" y1="545.5" x2="973" y2="545.5" stroke="#555"/>
<text x="1020" y="548.3" text-anchor="end" fill="#000" stroke="#000">500M</text>
<g shape-rendering="crispEdges"><rect x="4" y="533" width="2" height="34" fill="#009000"/><rect x="11" y="540" width="2" height="27" fill="#ff0000"/><rect x="17" y="502" width="2" height="65" fill="#ff0000"/><rect x="25" y="508" width="2" height="59" fill="#ff0000"/><rect x="31" y="551" width="2" height="16" fill="#ff0000"/><rect x="38" y="554" width="2" height="13" fill="#ff0000"/><rect x="45" y="560" width="2" height="7" fill="#ff0000"/><rect x="52" y="558" width="2" height="9" fill="#ff0000"/><rect x="58" y="554" width="2" height="13" fill="#009000"/><rect x="66" y="534" width="2" height="33" fill="#ff0000"/><rect x="72" y="555" width="2" height="12" fill="#009000"/><rect x="79" y="553" width="2" height="14" fill="#ff0000"/><rect x="86" y="560" width="2" height="7" fill="#009000"/><rect x="93" y="561" width="2" height="6" fill="#ff0000"/><rect x="99" y="551" width="2" height="16" fill="#009000"/><rect x="107" y="557" width="2" height="10" fill="#009000"/><rect x="113" y="563" width="2" height="4" fill="#009000"/><rect x="120" y="564" width="2" height="3" fill="#ff0000"/><rect x="127" y="553" width="2" height="14" fill="#009000"/><rect x="134" y="552" width="2" height="15" fill="#009000"/><rect x="141" y="558" width="2" height="9" fill="#ff0000"/><rect x="148" y="565" width="2" height="2" fill="#ff0000"/><rect x="154" y="557" width="2" height="10" fill="#ff0000"/><rect x="162" y="556" width="2" height="11" fill="#009000"/><rect x="168" y="556" width="2" height="11" fill="#ff0000"/><rect x="175" y="560" width="2" height="7" fill="#ff0000"/><rect x="181" y="564" width="2" height="3" fill="#009000"/><rect x="189" y="549" width="2" height="18" fill="#009000"/><rect x="195" y="546" width="2" height="21" fill="#009000"/><rect x="202" y="537" width="2" height="30" fill="#009000"/><rect x="209" y="543" width="2" height="24" fill="#ff0000"/><rect x="216" y="551" width="2" height="16" fill="#009000"/><rect x="222" y="552" width="2" height="15" fill="#009000"/><rect x="230" y="548" width="2" height="19" fill="#009000"/><rect x="236" y="540" width="2" height="27" fill="#009000"/><rect x="244" y="540" width="2" height="27" fill="#009000"/><rect x="250" y="541" width="2" height="26" fill="#009000"/><rect x="257" y="546" width="2" height="21" fill="#ff0000"/><rect x="264" y="556" width="2" height="11" fill="#009000"/><rect x="271" y="558" width="2" height="9" fill="#009000"/><rect x="278" y="546" width="2" height="21" fill="#009000"/><rect x="284" y="548" width="2" height="19" fill="#009000"/><rect x="291" y="554" width="2" height="13" fill="#ff0000"/><rect x="298" y="545" width="2" height="22" fill="#009000"/><rect x="305" y="549" width="2" height="18" fill="#ff0000"/><rect x="312" y="540" width="2" height="27" fill="#009000"/><rect x="318" y="539" width="2" height="28" fill="#009000"/><rect x="326" y="527" width="2" height="40" fill="#009000"/><rect x="332" y="542" width="2" height="25" fill="#ff0000"/><rect x="339" y="554" width="2" height="13" fill="#009000"/><rect x="346" y="542" width="2" height="25" fill="#009000"/><rect x="352" y="554" width="2" height="13" fill="#009000"/><rect x="359" y="554" width="2" height="13" fill="#ff0000"/><rect x="366" y="549" width="2" height="18" fill="#009000"/><rect x="373" y="532" width="2" height="35" fill="#009000"/><rect x="379" y="549" width="2" height="18" fill="#ff0000"/><rect x="387" y="545" width="2" height="22" fill="#009000"/><rect x="393" y="553" width="2" height="14" fill="#009000"/><rect x="401" y="556" width="2" height="11" fill="#009000"/><rect x="407" y="549" width="2" height="18" fill="#009000"/><rect x="414" y="548" width="2" height="19" fill="#009000"/><rect x="421" y="558" width="2" height="9" fill="#ff0000"/><rect x="428" y="557" width="2" height="10" fill="#009000"/><rect x="434" y="551" width="2" height="16" fill="#009000"/><rect x="442" y="541" width="2" height="26" fill="#009000"/><rect x="448" y="526" width="2" height="41" fill="#009000"/><rect x="455" y="550" width="2" height="17" fill="#ff0000"/><rect x="462" y="549" width="2" height="18" fill="#ff0000"/><rect x="469" y="552" width="2" height="15" fill="#009000"/><rect x="475" y="554" width="2" height="13" fill="#009000"/><rect x="483" y="544" width="2" height="23" fill="#009000"/><rect x="489" y="515" width="2" height="52" fill="#009000"/><rect x="497" y="512" width="2" height="55" fill="#009000"/><rect x="503" y="517" width="2" height="50" fill="#009000"/><rect x="510" y="497" width="2" height="70" fill="#009000"/><rect x="517" y="483" width="2" height="84" fill="#009000"/><rect x="524" y="466" width="2" height="101" fill="#ff0000"/><rect x="530" y="519" width="2" height="48" fill="#009000"/><rect x="537" y="537" width="2" height="30" fill="#009000"/><rect x="544" y="524" width="2" height="43" fill="#009000"/><rect x="551" y="505" width="2" height="62" fill="#009000"/><rect x="558" y="490" width="2" height="77" fill="#009000"/><rect x="565" y="501" width="2" height="66" fill="#009000"/><rect x="571" y="521" width="2" height="46" fill="#009000"/><rect x="578" y="529" width="2" height="38" fill="#009000"/><rect x="585" y="527" width="2" height="40" fill="#009000"/><rect x="592" y="546" width="2" height="21" fill="#009000"/><rect x="599" y="545" width="2" height="22" fill="#009000"/><rect x="606" y="543" width="2" height="24" fill="#009000"/><rect x="612" y="532" width="2" height="35" fill="#009000"/><rect x="620" y="535" width="2" height="32" fill="#ff0000"/><rect x="626" y="527" width="2" height="40" fill="#ff0000"/><rect x="633" y="520" width="2" height="47" fill="#009000"/><rect x="640" y="515" width="2" height="52" fill="#009000"/><rect x="647" y="521" width="2" height="46" fill="#ff0000"/><rect x="653" y="545" width="2" height="22" fill="#ff0000"/><rect x="660" y="556" width="2" height="11" fill="#ff0000"/><rect x="667" y="546" width="2" height="21" fill="#ff0000"/><rect x="673" y="557" width="2" height="10" fill="#009000"/><rect x="681" y="562" width="2" height="5" fill="#009000"/><rect x="687" y="561" width="2" height="6" fill="#ff0000"/><rect x="694" y="549" width="2" height="18" fill="#009000"/><rect x="701" y="559" width="2" height="8" fill="#009000"/><rect x="708" y="556" width="2" height="11" fill="#009000"/><rect x="714" y="560" width="2" height="7" fill="#ff0000"/><rect x="722" y="561" width="2" height="6" fill="#ff0000"/><rect x="728" y="558" width="2" height="9" fill="#009000"/><rect x="735" y="561" width="2" height="6" fill="#ff0000"/><rect x="742" y="558" width="2" height="9" fill="#009000"/><rect x="749" y="558" width="2" height="9" fill="#ff0000"/><rect x="756" y="559" width="2" height="8" fill="#ff0000"/><rect x="763" y="552" width="2" height="15" fill="#ff0000"/><rect x="769" y="542" width="2" height="25" fill="#009000"/><rect x="776" y="554" width="2" height="13" fill="#ff0000"/><rect x="783" y="549" width="2" height="18" fill="#009000"/><rect x="790" y="551" width="2" height="16" fill="#009000"/><rect x="797" y="550" width="2" height="17" fill="#009000"/><rect x="804" y="541" width="2" height="26" fill="#009000"/><rect x="810" y="554" width="2" height="13" fill="#009000"/><rect x="818" y="549" width="2" height="18" fill="#009000"/><rect x="824" y="540" width="2" height="27" fill="#009000"/><rect x="831" y="556" width="2" height="11" fill="#009000"/><rect x="838" y="563" width="2" height="4" fill="#009000"/><rect x="845" y="564" width="2" height="3" fill="#009000"/><rect x="851" y="559" width="2" height="8" fill="#ff0000"/><rect x="859" y="557" width="2" height="10" fill="#ff0000"/><rect x="865" y="558" width="2" height="9" fill="#ff0000"/><rect x="872" y="556" width="2" height="11" fill="#009000"/><rect x="879" y="544" width="2" height="23" fill="#009000"/><rect x="886" y="560" width="2" height="7" fill="#ff0000"/><rect x="892" y="553" width="2" height="14" fill="#ff0000"/></g>
<polygon points="969,553.2 976,546.4 1024,546.4 1024,560 976,560" fill="#ff0000"/>
<text x="977.4" y="557.5" fill="#1a0000" stroke="#1a0000">373,922,176</text>
<text x="4.5" y="580.3" fill="#000" style="font-size:8.65px" stroke="#000">Created with AmiBroker - advanced charting and technical analysis software. http://www.amibroker.com</text>
</svg></body></html>
